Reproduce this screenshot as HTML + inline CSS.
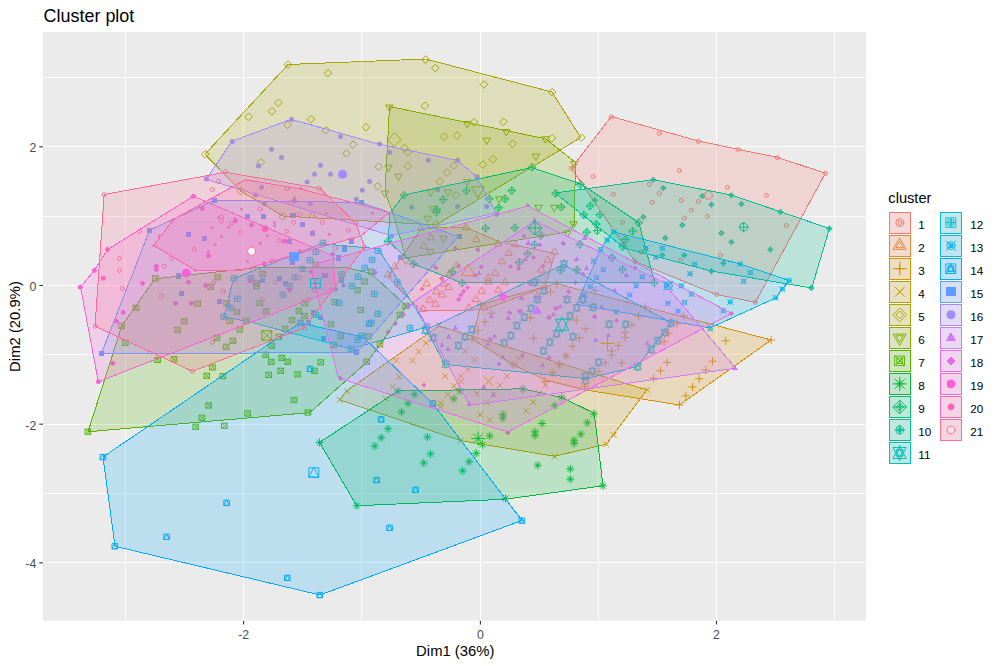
<!DOCTYPE html><html><head><meta charset="utf-8"><title>Cluster plot</title><style>html,body{margin:0;padding:0;background:#fff}svg{display:block}circle{shape-rendering:geometricPrecision}text{font-family:"Liberation Sans",Arial,sans-serif}</style></head><body>
<svg width="999" height="666" viewBox="0 0 999 666">
<rect width="999" height="666" fill="#fff"/>
<rect x="43" y="32" width="823" height="588.7" fill="#EBEBEB"/>
<clipPath id="pc"><rect x="43" y="32" width="823" height="588.7"/></clipPath>
<g shape-rendering="crispEdges"><path d="M125.5 32V620.7" stroke="#fff" stroke-width="1" stroke-opacity="0.85"/><path d="M361.5 32V620.7" stroke="#fff" stroke-width="1" stroke-opacity="0.85"/><path d="M598.5 32V620.7" stroke="#fff" stroke-width="1" stroke-opacity="0.85"/><path d="M834.5 32V620.7" stroke="#fff" stroke-width="1" stroke-opacity="0.85"/><path d="M43 77.5H866" stroke="#fff" stroke-width="1" stroke-opacity="0.85"/><path d="M43 216.5H866" stroke="#fff" stroke-width="1" stroke-opacity="0.85"/><path d="M43 354.5H866" stroke="#fff" stroke-width="1" stroke-opacity="0.85"/><path d="M43 493.5H866" stroke="#fff" stroke-width="1" stroke-opacity="0.85"/><path d="M243.6 32V620.7" stroke="#fff" stroke-width="1.3"/><path d="M480.4 32V620.7" stroke="#fff" stroke-width="1.3"/><path d="M716.5 32V620.7" stroke="#fff" stroke-width="1.3"/><path d="M43 146.83H866" stroke="#fff" stroke-width="1.3"/><path d="M43 285.5H866" stroke="#fff" stroke-width="1.3"/><path d="M43 424.17H866" stroke="#fff" stroke-width="1.3"/><path d="M43 562.83H866" stroke="#fff" stroke-width="1.3"/></g>
<g clip-path="url(#pc)" shape-rendering="crispEdges">
<g stroke="#F8766D" stroke-width="0.95" fill="none" stroke-linecap="round"><circle cx="571.2" cy="168.5" r="2"/><circle cx="593.2" cy="176.5" r="2"/><circle cx="611.3" cy="116.8" r="2"/><circle cx="659.3" cy="133.3" r="2"/><circle cx="698.4" cy="141.3" r="2"/><circle cx="738.1" cy="149.5" r="2"/><circle cx="777.4" cy="157.6" r="2"/><circle cx="825.5" cy="173.3" r="2"/><circle cx="679.3" cy="170.6" r="2"/><circle cx="727.4" cy="187.3" r="2"/><circle cx="766.4" cy="195.3" r="2"/><circle cx="649.3" cy="184.3" r="2"/><circle cx="659.3" cy="193.3" r="2"/><circle cx="613.3" cy="194.3" r="2"/><circle cx="652.3" cy="202.4" r="2"/><circle cx="681.3" cy="200.4" r="2"/><circle cx="698.4" cy="201.4" r="2"/><circle cx="691.3" cy="210.1" r="2"/><circle cx="707.4" cy="216.4" r="2"/><circle cx="684.3" cy="218.1" r="2"/><circle cx="622.5" cy="222.4" r="2"/><circle cx="786.4" cy="225.4" r="2"/><circle cx="720.4" cy="255.4" r="2"/><circle cx="680.3" cy="260.2" r="2"/><circle cx="641.3" cy="252.2" r="2"/><circle cx="635" cy="261.4" r="2"/><circle cx="716.6" cy="294.4" r="2"/><circle cx="755.3" cy="302.3" r="2"/></g>
<g stroke="#EB8335" stroke-width="0.95" fill="none" stroke-linecap="round"><path d="M312.6 211.55L316.11 217.63L309.09 217.63Z"/><path d="M421.1 224.25L424.61 230.33L417.59 230.33Z"/><path d="M430.8 233.75L434.31 239.83L427.29 239.83Z"/><path d="M423.8 242.05L427.31 248.13L420.29 248.13Z"/><path d="M466.1 223.65L469.61 229.73L462.59 229.73Z"/><path d="M476.6 235.75L480.11 241.83L473.09 241.83Z"/><path d="M394.8 262.75L398.31 268.83L391.29 268.83Z"/><path d="M388 270.85L391.51 276.93L384.49 276.93Z"/><path d="M456.8 261.55L460.31 267.63L453.29 267.63Z"/><path d="M449.6 269.75L453.11 275.83L446.09 275.83Z"/><path d="M515.3 240.55L518.81 246.63L511.79 246.63Z"/><path d="M508.9 249.25L512.41 255.33L505.39 255.33Z"/><path d="M502.1 257.75L505.61 263.83L498.59 263.83Z"/><path d="M495.4 269.35L498.91 275.43L491.89 275.43Z"/><path d="M488.6 274.25L492.11 280.33L485.09 280.33Z"/><path d="M498.4 239.75L501.91 245.83L494.89 245.83Z"/><path d="M554.8 248.05L558.31 254.13L551.29 254.13Z"/><path d="M547.8 256.25L551.31 262.33L544.29 262.33Z"/><path d="M541.5 266.05L545.01 272.13L537.99 272.13Z"/><path d="M426.8 279.75L430.31 285.83L423.29 285.83Z"/><path d="M443.6 279.75L447.11 285.83L440.09 285.83Z"/><path d="M448.8 283.45L452.31 289.53L445.29 289.53Z"/><path d="M436.5 287.65L440.01 293.73L432.99 293.73Z"/><path d="M442.5 290.95L446.01 297.03L438.99 297.03Z"/><path d="M429.8 296.25L433.31 302.33L426.29 302.33Z"/><path d="M435.8 300.25L439.31 306.33L432.29 306.33Z"/><path d="M423.3 305.25L426.81 311.33L419.79 311.33Z"/><path d="M475.9 295.45L479.41 301.53L472.39 301.53Z"/><path d="M481.9 287.25L485.41 293.33L478.39 293.33Z"/><path d="M498.4 286.15L501.91 292.23L494.89 292.23Z"/><path d="M505.1 278.65L508.61 284.73L501.59 284.73Z"/><path d="M469.1 304.15L472.61 310.23L465.59 310.23Z"/><path d="M484.9 303.75L488.41 309.83L481.39 309.83Z"/><path d="M488.6 278.25L492.11 284.33L485.09 284.33Z"/><path d="M544 282.75L547.51 288.83L540.49 288.83Z"/><path d="M537.7 291.75L541.21 297.83L534.19 297.83Z"/></g>
<g stroke="#DA8F00" stroke-width="0.95" fill="none" stroke-linecap="round"><path d="M477.41 304h7.37M481.1 300.31v7.37"/><path d="M487.61 313.3h7.37M491.3 309.61v7.37"/><path d="M481.21 322h7.37M484.9 318.31v7.37"/><path d="M474.41 330.6h7.37M478.1 326.91v7.37"/><path d="M468.41 339h7.37M472.1 335.31v7.37"/><path d="M553.11 284.2h7.37M556.8 280.51v7.37"/><path d="M546.81 292h7.37M550.5 288.31v7.37"/><path d="M591.41 290.8h7.37M595.1 287.11v7.37"/><path d="M526.81 317.8h7.37M530.5 314.11v7.37"/><path d="M572.61 320.2h7.37M576.3 316.51v7.37"/><path d="M582.11 328.8h7.37M585.8 325.11v7.37"/><path d="M575.61 337.8h7.37M579.3 334.11v7.37"/><path d="M529.81 338.3h7.37M533.5 334.61v7.37"/><path d="M568.91 346.1h7.37M572.6 342.41v7.37"/><path d="M628.21 325h7.37M631.9 321.31v7.37"/><path d="M621.41 332.6h7.37M625.1 328.91v7.37"/><path d="M621.41 337.8h7.37M625.1 334.11v7.37"/><path d="M614.61 345.6h7.37M618.3 341.91v7.37"/><path d="M607.91 350.9h7.37M611.6 347.21v7.37"/><path d="M607.91 355.1h7.37M611.6 351.41v7.37"/><path d="M601.61 362.9h7.37M605.3 359.21v7.37"/><path d="M618.11 362.9h7.37M621.8 359.21v7.37"/><path d="M634.91 316h7.37M638.6 312.31v7.37"/><path d="M641.71 307h7.37M645.4 303.31v7.37"/><path d="M660.41 341.6h7.37M664.1 337.91v7.37"/><path d="M663.41 362.3h7.37M667.1 358.61v7.37"/><path d="M656.71 370.8h7.37M660.4 367.11v7.37"/><path d="M595.11 371.6h7.37M598.8 367.91v7.37"/><path d="M649.91 378.3h7.37M653.6 374.61v7.37"/><path d="M664.91 333.3h7.37M668.6 329.61v7.37"/><path d="M541.11 381.5h7.37M544.8 377.81v7.37"/><path d="M580.91 386.8h7.37M584.6 383.11v7.37"/><path d="M767.51 340h7.37M771.2 336.31v7.37"/><path d="M722.11 340.8h7.37M725.8 337.11v7.37"/><path d="M708.81 361.2h7.37M712.5 357.51v7.37"/><path d="M702.11 370h7.37M705.8 366.31v7.37"/><path d="M695.51 378.8h7.37M699.2 375.11v7.37"/><path d="M688.81 387h7.37M692.5 383.31v7.37"/><path d="M682.11 395.8h7.37M685.8 392.11v7.37"/><path d="M675.81 405h7.37M679.5 401.31v7.37"/><path d="M680.11 315.8h7.37M683.8 312.11v7.37"/><path d="M673.31 323.8h7.37M677 320.11v7.37"/><path d="M562.21 355.7h7.37M565.9 352.01v7.37"/><path d="M555.41 364h7.37M559.1 360.31v7.37"/><path d="M548.61 372.6h7.37M552.3 368.91v7.37"/><path d="M509.61 365h7.37M513.3 361.31v7.37"/></g>
<g stroke="#C49A00" stroke-width="0.95" fill="none" stroke-linecap="round"><path d="M436.19 322.39l5.21 5.21M436.19 327.61l5.21 -5.21"/><path d="M423.29 340.49l5.21 5.21M423.29 345.71l5.21 -5.21"/><path d="M416.19 349.19l5.21 5.21M416.19 354.41l5.21 -5.21"/><path d="M393.69 357.99l5.21 5.21M393.69 363.21l5.21 -5.21"/><path d="M409.89 357.99l5.21 5.21M409.89 363.21l5.21 -5.21"/><path d="M462.39 348.69l5.21 5.21M462.39 353.91l5.21 -5.21"/><path d="M472.09 357.29l5.21 5.21M472.09 362.51l5.21 -5.21"/><path d="M465.69 366.99l5.21 5.21M465.69 372.21l5.21 -5.21"/><path d="M442.49 373.49l5.21 5.21M442.49 378.71l5.21 -5.21"/><path d="M458.19 373.49l5.21 5.21M458.19 378.71l5.21 -5.21"/><path d="M396.69 374.19l5.21 5.21M396.69 379.41l5.21 -5.21"/><path d="M504.29 373.49l5.21 5.21M504.29 378.71l5.21 -5.21"/><path d="M511.49 362.19l5.21 5.21M511.49 367.41l5.21 -5.21"/><path d="M515.99 355.49l5.21 5.21M515.99 360.71l5.21 -5.21"/><path d="M563.19 353.19l5.21 5.21M563.19 358.41l5.21 -5.21"/><path d="M556.69 362.19l5.21 5.21M556.69 367.41l5.21 -5.21"/><path d="M550.09 371.19l5.21 5.21M550.09 376.41l5.21 -5.21"/><path d="M389.89 384.19l5.21 5.21M389.89 389.41l5.21 -5.21"/><path d="M383.19 396.19l5.21 5.21M383.19 401.41l5.21 -5.21"/><path d="M451.49 383.39l5.21 5.21M451.49 388.61l5.21 -5.21"/><path d="M445.19 392.09l5.21 5.21M445.19 397.31l5.21 -5.21"/><path d="M437.99 400.69l5.21 5.21M437.99 405.91l5.21 -5.21"/><path d="M437.99 404.39l5.21 5.21M437.99 409.61l5.21 -5.21"/><path d="M458.19 378.89l5.21 5.21M458.19 384.11l5.21 -5.21"/><path d="M474.29 391.19l5.21 5.21M474.29 396.41l5.21 -5.21"/><path d="M484.19 399.89l5.21 5.21M484.19 405.11l5.21 -5.21"/><path d="M477.49 412.19l5.21 5.21M477.49 417.41l5.21 -5.21"/><path d="M487.19 417.19l5.21 5.21M487.19 422.41l5.21 -5.21"/><path d="M497.29 382.69l5.21 5.21M497.29 387.91l5.21 -5.21"/><path d="M457.89 438.19l5.21 5.21M457.89 443.41l5.21 -5.21"/><path d="M490.79 391.69l5.21 5.21M490.79 396.91l5.21 -5.21"/><path d="M542.89 382.69l5.21 5.21M542.89 387.91l5.21 -5.21"/><path d="M536.19 390.59l5.21 5.21M536.19 395.81l5.21 -5.21"/><path d="M530.49 399.49l5.21 5.21M530.49 404.71l5.21 -5.21"/><path d="M523.39 408.19l5.21 5.21M523.39 413.41l5.21 -5.21"/><path d="M644.69 387.19l5.21 5.21M644.69 392.41l5.21 -5.21"/><path d="M611.19 432.69l5.21 5.21M611.19 437.91l5.21 -5.21"/><path d="M603.69 441.69l5.21 5.21M603.69 446.91l5.21 -5.21"/><path d="M552.19 453.99l5.21 5.21M552.19 459.21l5.21 -5.21"/><path d="M337.19 397.19l5.21 5.21M337.19 402.41l5.21 -5.21"/><path d="M344.69 388.59l5.21 5.21M344.69 393.81l5.21 -5.21"/></g>
<g stroke="#A9A400" stroke-width="0.95" fill="none" stroke-linecap="round"><path d="M284.41 64.4L288.1 60.71L291.79 64.4L288.1 68.09Z"/><path d="M324.41 73L328.1 69.31L331.79 73L328.1 76.69Z"/><path d="M274.81 102.7L278.5 99.01L282.19 102.7L278.5 106.39Z"/><path d="M268.41 111.1L272.1 107.41L275.79 111.1L272.1 114.79Z"/><path d="M245.01 116.7L248.7 113.01L252.39 116.7L248.7 120.39Z"/><path d="M307.41 119.1L311.1 115.41L314.79 119.1L311.1 122.79Z"/><path d="M284.01 124.7L287.7 121.01L291.39 124.7L287.7 128.39Z"/><path d="M322.41 130.1L326.1 126.41L329.79 130.1L326.1 133.79Z"/><path d="M362.51 127.1L366.2 123.41L369.89 127.1L366.2 130.79Z"/><path d="M349.51 144.5L353.2 140.81L356.89 144.5L353.2 148.19Z"/><path d="M342.91 153.3L346.6 149.61L350.29 153.3L346.6 156.99Z"/><path d="M257.41 162.1L261.1 158.41L264.79 162.1L261.1 165.79Z"/><path d="M201.71 154.1L205.4 150.41L209.09 154.1L205.4 157.79Z"/><path d="M375.11 166.5L378.8 162.81L382.49 166.5L378.8 170.19Z"/><path d="M421.91 59.4L425.6 55.71L429.29 59.4L425.6 63.09Z"/><path d="M431.71 68L435.4 64.31L439.09 68L435.4 71.69Z"/><path d="M480.41 84.4L484.1 80.71L487.79 84.4L484.1 88.09Z"/><path d="M548.51 92L552.2 88.31L555.89 92L552.2 95.69Z"/><path d="M421.31 105.7L425 102.01L428.69 105.7L425 109.39Z"/><path d="M470.41 122.1L474.1 118.41L477.79 122.1L474.1 125.79Z"/><path d="M499.81 121.7L503.5 118.01L507.19 121.7L503.5 125.39Z"/><path d="M548.51 138.1L552.2 134.41L555.89 138.1L552.2 141.79Z"/><path d="M577.91 137.5L581.6 133.81L585.29 137.5L581.6 141.19Z"/><path d="M440.71 136.5L444.4 132.81L448.09 136.5L444.4 140.19Z"/><path d="M453.41 135.5L457.1 131.81L460.79 135.5L457.1 139.19Z"/><path d="M509.01 143.7L512.7 140.01L516.39 143.7L512.7 147.39Z"/><path d="M489.41 159.1L493.1 155.41L496.79 159.1L493.1 162.79Z"/><path d="M479.41 164.5L483.1 160.81L486.79 164.5L483.1 168.19Z"/><path d="M404.31 152.1L408 148.41L411.69 152.1L408 155.79Z"/><path d="M400.91 148.1L404.6 144.41L408.29 148.1L404.6 151.79Z"/><path d="M404.31 166.1L408 162.41L411.69 166.1L408 169.79Z"/><path d="M450.41 165.5L454.1 161.81L457.79 165.5L454.1 169.19Z"/><path d="M443.41 172.5L447.1 168.81L450.79 172.5L447.1 176.19Z"/><path d="M436.31 181.5L440 177.81L443.69 181.5L440 185.19Z"/><path d="M237.31 191L241 187.31L244.69 191L241 194.69Z"/><path d="M279.41 216.5L283.1 212.81L286.79 216.5L283.1 220.19Z"/><path d="M374.11 186L377.8 182.31L381.49 186L377.8 189.69Z"/><path d="M452.31 195L456 191.31L459.69 195L456 198.69Z"/><path d="M432.41 224.3L436.1 220.61L439.79 224.3L436.1 227.99Z"/></g>
<g stroke="#86AC00" stroke-width="0.95" fill="none" stroke-linecap="round"><path d="M389.6 111.15L393.11 105.07L386.09 105.07Z"/><path d="M388.8 171.15L392.31 165.07L385.29 165.07Z"/><path d="M467.5 127.55L471.01 121.47L463.99 121.47Z"/><path d="M506.5 135.55L510.01 129.47L502.99 129.47Z"/><path d="M545.6 142.75L549.11 136.67L542.09 136.67Z"/><path d="M487.1 144.15L490.61 138.07L483.59 138.07Z"/><path d="M536.1 160.15L539.61 154.07L532.59 154.07Z"/><path d="M574.6 167.55L578.11 161.47L571.09 161.47Z"/><path d="M398.6 180.15L402.11 174.07L395.09 174.07Z"/><path d="M467.1 185.55L470.61 179.47L463.59 179.47Z"/><path d="M385 197.25L388.51 191.17L381.49 191.17Z"/><path d="M431.1 196.05L434.61 189.97L427.59 189.97Z"/><path d="M448.1 196.05L451.61 189.97L444.59 189.97Z"/><path d="M433.1 212.55L436.61 206.47L429.59 206.47Z"/><path d="M427.8 222.35L431.31 216.27L424.29 216.27Z"/><path d="M443.9 242.35L447.41 236.27L440.39 236.27Z"/><path d="M430.5 255.35L434.01 249.27L426.99 249.27Z"/><path d="M406 264.35L409.51 258.27L402.49 258.27Z"/><path d="M499.4 202.85L502.91 196.77L495.89 196.77Z"/><path d="M538.8 211.35L542.31 205.27L535.29 205.27Z"/><path d="M554.5 211.35L558.01 205.27L550.99 205.27Z"/><path d="M573.8 227.85L577.31 221.77L570.29 221.77Z"/><path d="M567.7 236.95L571.21 230.87L564.19 230.87Z"/></g>
<g stroke="#53B400" stroke-width="0.95" fill="none" stroke-linecap="round"><path d="M152.99 275.69l5.21 5.21M152.99 280.91l5.21 -5.21M152.99 275.69h5.21v5.21h-5.21Z"/><path d="M215.29 274.69l5.21 5.21M215.29 279.91l5.21 -5.21M215.29 274.69h5.21v5.21h-5.21Z"/><path d="M133.49 305.19l5.21 5.21M133.49 310.41l5.21 -5.21M133.49 305.19h5.21v5.21h-5.21Z"/><path d="M119.19 323.19l5.21 5.21M119.19 328.41l5.21 -5.21M119.19 323.19h5.21v5.21h-5.21Z"/><path d="M122.99 340.19l5.21 5.21M122.99 345.41l5.21 -5.21M122.99 340.19h5.21v5.21h-5.21Z"/><path d="M208.19 284.19l5.21 5.21M208.19 289.41l5.21 -5.21M208.19 284.19h5.21v5.21h-5.21Z"/><path d="M195.29 301.09l5.21 5.21M195.29 306.31l5.21 -5.21M195.29 301.09h5.21v5.21h-5.21Z"/><path d="M181.79 318.69l5.21 5.21M181.79 323.91l5.21 -5.21M181.79 318.69h5.21v5.21h-5.21Z"/><path d="M175.19 327.19l5.21 5.21M175.19 332.41l5.21 -5.21M175.19 327.19h5.21v5.21h-5.21Z"/><path d="M155.19 357.29l5.21 5.21M155.19 362.51l5.21 -5.21M155.19 357.29h5.21v5.21h-5.21Z"/><path d="M171.49 356.49l5.21 5.21M171.49 361.71l5.21 -5.21M171.49 356.49h5.21v5.21h-5.21Z"/><path d="M214.49 335.19l5.21 5.21M214.49 340.41l5.21 -5.21M214.49 335.19h5.21v5.21h-5.21Z"/><path d="M209.99 364.79l5.21 5.21M209.99 370.01l5.21 -5.21M209.99 364.79h5.21v5.21h-5.21Z"/><path d="M204.29 373.19l5.21 5.21M204.29 378.41l5.21 -5.21M204.29 373.19h5.21v5.21h-5.21Z"/><path d="M85.39 429.19l5.21 5.21M85.39 434.41l5.21 -5.21M85.39 429.19h5.21v5.21h-5.21Z"/><path d="M260.19 271.19l5.21 5.21M260.19 276.41l5.21 -5.21M260.19 271.19h5.21v5.21h-5.21Z"/><path d="M313.49 262.19l5.21 5.21M313.49 267.41l5.21 -5.21M313.49 262.19h5.21v5.21h-5.21Z"/><path d="M254.19 280.39l5.21 5.21M254.19 285.61l5.21 -5.21M254.19 280.39h5.21v5.21h-5.21Z"/><path d="M254.19 283.69l5.21 5.21M254.19 288.91l5.21 -5.21M254.19 283.69h5.21v5.21h-5.21Z"/><path d="M224.19 300.69l5.21 5.21M224.19 305.91l5.21 -5.21M224.19 300.69h5.21v5.21h-5.21Z"/><path d="M234.39 309.19l5.21 5.21M234.39 314.41l5.21 -5.21M234.39 309.19h5.21v5.21h-5.21Z"/><path d="M227.19 318.19l5.21 5.21M227.19 323.41l5.21 -5.21M227.19 318.19h5.21v5.21h-5.21Z"/><path d="M243.69 318.19l5.21 5.21M243.69 323.41l5.21 -5.21M243.69 318.19h5.21v5.21h-5.21Z"/><path d="M237.39 326.89l5.21 5.21M237.39 332.11l5.21 -5.21M237.39 326.89h5.21v5.21h-5.21Z"/><path d="M230.49 338.19l5.21 5.21M230.49 343.41l5.21 -5.21M230.49 338.19h5.21v5.21h-5.21Z"/><path d="M223.69 344.19l5.21 5.21M223.69 349.41l5.21 -5.21M223.69 344.19h5.21v5.21h-5.21Z"/><path d="M257.19 300.19l5.21 5.21M257.19 305.41l5.21 -5.21M257.19 300.19h5.21v5.21h-5.21Z"/><path d="M263.49 308.59l5.21 5.21M263.49 313.81l5.21 -5.21M263.49 308.59h5.21v5.21h-5.21Z"/><path d="M302.49 300.69l5.21 5.21M302.49 305.91l5.21 -5.21M302.49 300.69h5.21v5.21h-5.21Z"/><path d="M296.49 308.19l5.21 5.21M296.49 313.41l5.21 -5.21M296.49 308.19h5.21v5.21h-5.21Z"/><path d="M302.19 313.39l5.21 5.21M302.19 318.61l5.21 -5.21M302.19 313.39h5.21v5.21h-5.21Z"/><path d="M289.49 317.49l5.21 5.21M289.49 322.71l5.21 -5.21M289.49 317.49h5.21v5.21h-5.21Z"/><path d="M282.69 326.19l5.21 5.21M282.69 331.41l5.21 -5.21M282.69 326.19h5.21v5.21h-5.21Z"/><path d="M276.29 334.19l5.21 5.21M276.29 339.41l5.21 -5.21M276.29 334.19h5.21v5.21h-5.21Z"/><path d="M269.19 343.19l5.21 5.21M269.19 348.41l5.21 -5.21M269.19 343.19h5.21v5.21h-5.21Z"/><path d="M263.19 352.19l5.21 5.21M263.19 357.41l5.21 -5.21M263.19 352.19h5.21v5.21h-5.21Z"/><path d="M268.79 359.19l5.21 5.21M268.79 364.41l5.21 -5.21M268.79 359.19h5.21v5.21h-5.21Z"/><path d="M279.29 355.19l5.21 5.21M279.29 360.41l5.21 -5.21M279.29 355.19h5.21v5.21h-5.21Z"/><path d="M285.29 359.19l5.21 5.21M285.29 364.41l5.21 -5.21M285.29 359.19h5.21v5.21h-5.21Z"/><path d="M278.19 368.19l5.21 5.21M278.19 373.41l5.21 -5.21M278.19 368.19h5.21v5.21h-5.21Z"/><path d="M266.19 372.29l5.21 5.21M266.19 377.51l5.21 -5.21M266.19 372.29h5.21v5.21h-5.21Z"/><path d="M295.19 371.69l5.21 5.21M295.19 376.91l5.21 -5.21M295.19 371.69h5.21v5.21h-5.21Z"/><path d="M311.99 368.19l5.21 5.21M311.99 373.41l5.21 -5.21M311.99 368.19h5.21v5.21h-5.21Z"/><path d="M318.29 359.69l5.21 5.21M318.29 364.91l5.21 -5.21M318.29 359.69h5.21v5.21h-5.21Z"/><path d="M328.49 321.69l5.21 5.21M328.49 326.91l5.21 -5.21M328.49 321.69h5.21v5.21h-5.21Z"/><path d="M338.29 333.69l5.21 5.21M338.29 338.91l5.21 -5.21M338.29 333.69h5.21v5.21h-5.21Z"/><path d="M331.49 342.29l5.21 5.21M331.49 347.51l5.21 -5.21M331.49 342.29h5.21v5.21h-5.21Z"/><path d="M332.29 299.49l5.21 5.21M332.29 304.71l5.21 -5.21M332.29 299.49h5.21v5.21h-5.21Z"/><path d="M355.19 287.59l5.21 5.21M355.19 292.81l5.21 -5.21M355.19 287.59h5.21v5.21h-5.21Z"/><path d="M358.19 307.39l5.21 5.21M358.19 312.61l5.21 -5.21M358.19 307.39h5.21v5.21h-5.21Z"/><path d="M361.99 278.89l5.21 5.21M361.99 284.11l5.21 -5.21M361.99 278.89h5.21v5.21h-5.21Z"/><path d="M220.39 373.49l5.21 5.21M220.39 378.71l5.21 -5.21M220.39 373.49h5.21v5.21h-5.21Z"/><path d="M364.19 359.19l5.21 5.21M364.19 364.41l5.21 -5.21M364.19 359.19h5.21v5.21h-5.21Z"/><path d="M365.99 333.69l5.21 5.21M365.99 338.91l5.21 -5.21M365.99 333.69h5.21v5.21h-5.21Z"/><path d="M206.19 402.89l5.21 5.21M206.19 408.11l5.21 -5.21M206.19 402.89h5.21v5.21h-5.21Z"/><path d="M199.39 415.19l5.21 5.21M199.39 420.41l5.21 -5.21M199.39 415.19h5.21v5.21h-5.21Z"/><path d="M193.19 424.19l5.21 5.21M193.19 429.41l5.21 -5.21M193.19 424.19h5.21v5.21h-5.21Z"/><path d="M221.89 423.19l5.21 5.21M221.89 428.41l5.21 -5.21M221.89 423.19h5.21v5.21h-5.21Z"/><path d="M245.19 410.89l5.21 5.21M245.19 416.11l5.21 -5.21M245.19 410.89h5.21v5.21h-5.21Z"/><path d="M291.59 397.39l5.21 5.21M291.59 402.61l5.21 -5.21M291.59 397.39h5.21v5.21h-5.21Z"/><path d="M305.39 409.89l5.21 5.21M305.39 415.11l5.21 -5.21M305.39 409.89h5.21v5.21h-5.21Z"/><path d="M368.89 268.99l5.21 5.21M368.89 274.21l5.21 -5.21M368.89 268.99h5.21v5.21h-5.21Z"/><path d="M403.39 303.19l5.21 5.21M403.39 308.41l5.21 -5.21M403.39 303.19h5.21v5.21h-5.21Z"/><path d="M397.39 312.19l5.21 5.21M397.39 317.41l5.21 -5.21M397.39 312.19h5.21v5.21h-5.21Z"/><path d="M377.49 341.69l5.21 5.21M377.49 346.91l5.21 -5.21M377.49 341.69h5.21v5.21h-5.21Z"/></g>
<g stroke="#00BA38" stroke-width="0.95" fill="none" stroke-linecap="round"><path d="M394.41 390.8h7.37M398.1 387.11v7.37M395.49 388.19l5.21 5.21M395.49 393.41l5.21 -5.21"/><path d="M410.91 394.3h7.37M414.6 390.61v7.37M411.99 391.69l5.21 5.21M411.99 396.91l5.21 -5.21"/><path d="M404.31 403.3h7.37M408 399.61v7.37M405.39 400.69l5.21 5.21M405.39 405.91l5.21 -5.21"/><path d="M397.81 412h7.37M401.5 408.31v7.37M398.89 409.39l5.21 5.21M398.89 414.61l5.21 -5.21"/><path d="M384.31 428.8h7.37M388 425.11v7.37M385.39 426.19l5.21 5.21M385.39 431.41l5.21 -5.21"/><path d="M377.61 437.8h7.37M381.3 434.11v7.37M378.69 435.19l5.21 5.21M378.69 440.41l5.21 -5.21"/><path d="M371.11 446.1h7.37M374.8 442.41v7.37M372.19 443.49l5.21 5.21M372.19 448.71l5.21 -5.21"/><path d="M423.71 437.1h7.37M427.4 433.41v7.37M424.79 434.49l5.21 5.21M424.79 439.71l5.21 -5.21"/><path d="M426.81 453.9h7.37M430.5 450.21v7.37M427.89 451.29l5.21 5.21M427.89 456.51l5.21 -5.21"/><path d="M420.11 462.9h7.37M423.8 459.21v7.37M421.19 460.29l5.21 5.21M421.19 465.51l5.21 -5.21"/><path d="M450.11 398.8h7.37M453.8 395.11v7.37M451.19 396.19l5.21 5.21M451.19 401.41l5.21 -5.21"/><path d="M456.11 390.8h7.37M459.8 387.11v7.37M457.19 388.19l5.21 5.21M457.19 393.41l5.21 -5.21"/><path d="M499.21 414.2h7.37M502.9 410.51v7.37M500.29 411.59l5.21 5.21M500.29 416.81l5.21 -5.21"/><path d="M499.21 418.3h7.37M502.9 414.61v7.37M500.29 415.69l5.21 5.21M500.29 420.91l5.21 -5.21"/><path d="M486.01 435.9h7.37M489.7 432.21v7.37M487.09 433.29l5.21 5.21M487.09 438.51l5.21 -5.21"/><path d="M478.91 444.6h7.37M482.6 440.91v7.37M479.99 441.99l5.21 5.21M479.99 447.21l5.21 -5.21"/><path d="M472.51 453.3h7.37M476.2 449.61v7.37M473.59 450.69l5.21 5.21M473.59 455.91l5.21 -5.21"/><path d="M465.41 461.8h7.37M469.1 458.11v7.37M466.49 459.19l5.21 5.21M466.49 464.41l5.21 -5.21"/><path d="M458.91 470.8h7.37M462.6 467.11v7.37M459.99 468.19l5.21 5.21M459.99 473.41l5.21 -5.21"/><path d="M519.31 389h7.37M523 385.31v7.37M520.39 386.39l5.21 5.21M520.39 391.61l5.21 -5.21"/><path d="M558.01 397.3h7.37M561.7 393.61v7.37M559.09 394.69l5.21 5.21M559.09 399.91l5.21 -5.21"/><path d="M551.11 405.8h7.37M554.8 402.11v7.37M552.19 403.19l5.21 5.21M552.19 408.41l5.21 -5.21"/><path d="M590.31 413.8h7.37M594 410.11v7.37M591.39 411.19l5.21 5.21M591.39 416.41l5.21 -5.21"/><path d="M583.61 422.8h7.37M587.3 419.11v7.37M584.69 420.19l5.21 5.21M584.69 425.41l5.21 -5.21"/><path d="M538.41 423.5h7.37M542.1 419.81v7.37M539.49 420.89l5.21 5.21M539.49 426.11l5.21 -5.21"/><path d="M531.31 431.8h7.37M535 428.11v7.37M532.39 429.19l5.21 5.21M532.39 434.41l5.21 -5.21"/><path d="M531.31 435.6h7.37M535 431.91v7.37M532.39 432.99l5.21 5.21M532.39 438.21l5.21 -5.21"/><path d="M577.11 434.1h7.37M580.8 430.41v7.37M578.19 431.49l5.21 5.21M578.19 436.71l5.21 -5.21"/><path d="M570.41 440.1h7.37M574.1 436.41v7.37M571.49 437.49l5.21 5.21M571.49 442.71l5.21 -5.21"/><path d="M570.41 443.4h7.37M574.1 439.71v7.37M571.49 440.79l5.21 5.21M571.49 446.01l5.21 -5.21"/><path d="M534.01 465.3h7.37M537.7 461.61v7.37M535.09 462.69l5.21 5.21M535.09 467.91l5.21 -5.21"/><path d="M566.61 469h7.37M570.3 465.31v7.37M567.69 466.39l5.21 5.21M567.69 471.61l5.21 -5.21"/><path d="M566.61 479.1h7.37M570.3 475.41v7.37M567.69 476.49l5.21 5.21M567.69 481.71l5.21 -5.21"/><path d="M599.31 485.8h7.37M603 482.11v7.37M600.39 483.19l5.21 5.21M600.39 488.41l5.21 -5.21"/><path d="M501.81 498.5h7.37M505.5 494.81v7.37M502.89 495.89l5.21 5.21M502.89 501.11l5.21 -5.21"/><path d="M315.81 442.5h7.37M319.5 438.81v7.37M316.89 439.89l5.21 5.21M316.89 445.11l5.21 -5.21"/><path d="M353.11 505.8h7.37M356.8 502.11v7.37M354.19 503.19l5.21 5.21M354.19 508.41l5.21 -5.21"/></g>
<g stroke="#00BE6D" stroke-width="0.95" fill="none" stroke-linecap="round"><path d="M528.41 167.1h7.37M532.1 163.41v7.37M528.41 167.1L532.1 163.41L535.79 167.1L532.1 170.79Z"/><path d="M635.11 222.6h7.37M638.8 218.91v7.37M635.11 222.6L638.8 218.91L642.49 222.6L638.8 226.29Z"/><path d="M628.81 231.1h7.37M632.5 227.41v7.37M628.81 231.1L632.5 227.41L636.19 231.1L632.5 234.79Z"/><path d="M621.81 239.6h7.37M625.5 235.91v7.37M621.81 239.6L625.5 235.91L629.19 239.6L625.5 243.29Z"/><path d="M596.31 214.6h7.37M600 210.91v7.37M596.31 214.6L600 210.91L603.69 214.6L600 218.29Z"/><path d="M592.61 223.9h7.37M596.3 220.21v7.37M592.61 223.9L596.3 220.21L599.99 223.9L596.3 227.59Z"/><path d="M593.81 230.6h7.37M597.5 226.91v7.37M593.81 230.6L597.5 226.91L601.19 230.6L597.5 234.29Z"/><path d="M619.31 246.4h7.37M623 242.71v7.37M619.31 246.4L623 242.71L626.69 246.4L623 250.09Z"/><path d="M608.31 257.7h7.37M612 254.01v7.37M608.31 257.7L612 254.01L615.69 257.7L612 261.39Z"/><path d="M400.51 195h7.37M404.2 191.31v7.37M400.51 195L404.2 191.31L407.89 195L404.2 198.69Z"/><path d="M439.61 199.5h7.37M443.3 195.81v7.37M439.61 199.5L443.3 195.81L446.99 199.5L443.3 203.19Z"/><path d="M462.81 190.8h7.37M466.5 187.11v7.37M462.81 190.8L466.5 187.11L470.19 190.8L466.5 194.49Z"/><path d="M433.11 209.3h7.37M436.8 205.61v7.37M433.11 209.3L436.8 205.61L440.49 209.3L436.8 212.99Z"/><path d="M433.11 212.3h7.37M436.8 208.61v7.37M433.11 212.3L436.8 208.61L440.49 212.3L436.8 215.99Z"/><path d="M384.31 241.3h7.37M388 237.61v7.37M384.31 241.3L388 237.61L391.69 241.3L388 244.99Z"/><path d="M409.81 263.8h7.37M413.5 260.11v7.37M409.81 263.8L413.5 260.11L417.19 263.8L413.5 267.49Z"/><path d="M481.91 228.3h7.37M485.6 224.61v7.37M481.91 228.3L485.6 224.61L489.29 228.3L485.6 231.99Z"/><path d="M511.21 227.7h7.37M514.9 224.01v7.37M511.21 227.7L514.9 224.01L518.59 227.7L514.9 231.39Z"/><path d="M508.21 190.5h7.37M511.9 186.81v7.37M508.21 190.5L511.9 186.81L515.59 190.5L511.9 194.19Z"/><path d="M501.41 198.8h7.37M505.1 195.11v7.37M501.41 198.8L505.1 195.11L508.79 198.8L505.1 202.49Z"/><path d="M485.71 198.8h7.37M489.4 195.11v7.37M485.71 198.8L489.4 195.11L493.09 198.8L489.4 202.49Z"/><path d="M495.11 207.8h7.37M498.8 204.11v7.37M495.11 207.8L498.8 204.11L502.49 207.8L498.8 211.49Z"/><path d="M448.61 271.9h7.37M452.3 268.21v7.37M448.61 271.9L452.3 268.21L455.99 271.9L452.3 275.59Z"/><path d="M515.71 262.3h7.37M519.4 258.61v7.37M515.71 262.3L519.4 258.61L523.09 262.3L519.4 265.99Z"/><path d="M551.91 193.2h7.37M555.6 189.51v7.37M551.91 193.2L555.6 189.51L559.29 193.2L555.6 196.89Z"/><path d="M576.81 184.2h7.37M580.5 180.51v7.37M576.81 184.2L580.5 180.51L584.19 184.2L580.5 187.89Z"/><path d="M557.61 207h7.37M561.3 203.31v7.37M557.61 207L561.3 203.31L564.99 207L561.3 210.69Z"/><path d="M586.61 205.8h7.37M590.3 202.11v7.37M586.61 205.8L590.3 202.11L593.99 205.8L590.3 209.49Z"/><path d="M580.11 214.8h7.37M583.8 211.11v7.37M580.11 214.8L583.8 211.11L587.49 214.8L583.8 218.49Z"/><path d="M583.11 232.1h7.37M586.8 228.41v7.37M583.11 232.1L586.8 228.41L590.49 232.1L586.8 235.79Z"/><path d="M618.91 269.3h7.37M622.6 265.61v7.37M618.91 269.3L622.6 265.61L626.29 269.3L622.6 272.99Z"/><path d="M576.41 244.3h7.37M580.1 240.61v7.37M576.41 244.3L580.1 240.61L583.79 244.3L580.1 247.99Z"/><path d="M537.31 235.3h7.37M541 231.61v7.37M537.31 235.3L541 231.61L544.69 235.3L541 238.99Z"/><path d="M530.91 244.6h7.37M534.6 240.91v7.37M530.91 244.6L534.6 240.91L538.29 244.6L534.6 248.29Z"/><path d="M524.11 253.6h7.37M527.8 249.91v7.37M524.11 253.6L527.8 249.91L531.49 253.6L527.8 257.29Z"/><path d="M573.41 269.8h7.37M577.1 266.11v7.37M573.41 269.8L577.1 266.11L580.79 269.8L577.1 273.49Z"/><path d="M557.11 270.1h7.37M560.8 266.41v7.37M557.11 270.1L560.8 266.41L564.49 270.1L560.8 273.79Z"/><path d="M458.61 283h7.37M462.3 279.31v7.37M458.61 283L462.3 279.31L465.99 283L462.3 286.69Z"/><path d="M650.71 282.7h7.37M654.4 279.01v7.37M650.71 282.7L654.4 279.01L658.09 282.7L654.4 286.39Z"/></g>
<g stroke="#00C094" stroke-width="0.95" fill="none" stroke-linecap="round"><circle cx="653.3" cy="179.8" r="2"/><path d="M650.69 179.8h5.21M653.3 177.19v5.21"/><circle cx="663.3" cy="188.1" r="2"/><path d="M660.69 188.1h5.21M663.3 185.49v5.21"/><circle cx="702.4" cy="196.1" r="2"/><path d="M699.79 196.1h5.21M702.4 193.49v5.21"/><circle cx="731.4" cy="195.3" r="2"/><path d="M728.79 195.3h5.21M731.4 192.69v5.21"/><circle cx="741.4" cy="204.1" r="2"/><path d="M738.79 204.1h5.21M741.4 201.49v5.21"/><circle cx="711.4" cy="204.6" r="2"/><path d="M708.79 204.6h5.21M711.4 201.99v5.21"/><circle cx="780.4" cy="211.9" r="2"/><path d="M777.79 211.9h5.21M780.4 209.29v5.21"/><circle cx="829.5" cy="228.6" r="2"/><path d="M826.89 228.6h5.21M829.5 225.99v5.21"/><circle cx="643.3" cy="217.1" r="2"/><path d="M640.69 217.1h5.21M643.3 214.49v5.21"/><circle cx="682.3" cy="225.1" r="2"/><path d="M679.69 225.1h5.21M682.3 222.49v5.21"/><circle cx="721.4" cy="233.1" r="2"/><path d="M718.79 233.1h5.21M721.4 230.49v5.21"/><circle cx="731.4" cy="242.1" r="2"/><path d="M728.79 242.1h5.21M731.4 239.49v5.21"/><circle cx="665.3" cy="238.1" r="2"/><path d="M662.69 238.1h5.21M665.3 235.49v5.21"/><circle cx="770.4" cy="249.6" r="2"/><path d="M767.79 249.6h5.21M770.4 246.99v5.21"/><circle cx="684.3" cy="255.2" r="2"/><path d="M681.69 255.2h5.21M684.3 252.59v5.21"/><circle cx="662.3" cy="255.2" r="2"/><path d="M659.69 255.2h5.21M662.3 252.59v5.21"/><circle cx="723.4" cy="263.2" r="2"/><path d="M720.79 263.2h5.21M723.4 260.59v5.21"/><circle cx="711.5" cy="271.2" r="2"/><path d="M708.89 271.2h5.21M711.5 268.59v5.21"/><circle cx="811.3" cy="288" r="2"/><path d="M808.69 288h5.21M811.3 285.39v5.21"/><circle cx="594.8" cy="200.3" r="2"/><path d="M592.19 200.3h5.21M594.8 197.69v5.21"/></g>
<g stroke="#00C0B5" stroke-width="0.95" fill="none" stroke-linecap="round"><path d="M564.3 260.05L567.81 267.14L560.79 267.14ZM564.3 268.15L567.81 261.06L560.79 261.06Z"/><path d="M425.6 326.25L429.11 333.34L422.09 333.34ZM425.6 334.35L429.11 327.26L422.09 327.26Z"/><path d="M433.4 333.75L436.91 340.84L429.89 340.84ZM433.4 341.85L436.91 334.76L429.89 334.76Z"/><path d="M445.8 360.05L449.31 367.14L442.29 367.14ZM445.8 368.15L449.31 361.06L442.29 361.06Z"/><path d="M472.1 325.45L475.61 332.54L468.59 332.54ZM472.1 333.55L475.61 326.46L468.59 326.46Z"/><path d="M465.3 332.75L468.81 339.84L461.79 339.84ZM465.3 340.85L468.81 333.76L461.79 333.76Z"/><path d="M458.6 341.55L462.11 348.64L455.09 348.64ZM458.6 349.65L462.11 342.56L455.09 342.56Z"/><path d="M511.1 331.55L514.61 338.64L507.59 338.64ZM511.1 339.65L514.61 332.56L507.59 332.56Z"/><path d="M504.4 339.05L507.91 346.14L500.89 346.14ZM504.4 347.15L507.91 340.06L500.89 340.06Z"/><path d="M517.1 321.75L520.61 328.84L513.59 328.84ZM517.1 329.85L520.61 322.76L513.59 322.76Z"/><path d="M535 278.25L538.51 285.34L531.49 285.34ZM535 286.35L538.51 279.26L531.49 279.26Z"/><path d="M544 286.75L547.51 293.84L540.49 293.84ZM544 294.85L547.51 287.76L540.49 287.76Z"/><path d="M537.7 295.45L541.21 302.54L534.19 302.54ZM537.7 303.55L541.21 296.46L534.19 296.46Z"/><path d="M531.3 304.45L534.81 311.54L527.79 311.54ZM531.3 312.55L534.81 305.46L527.79 305.46Z"/><path d="M524.5 313.15L528.01 320.24L520.99 320.24ZM524.5 321.25L528.01 314.16L520.99 314.16Z"/><path d="M567.3 295.45L570.81 302.54L563.79 302.54ZM567.3 303.55L570.81 296.46L563.79 296.46Z"/><path d="M583.1 295.45L586.61 302.54L579.59 302.54ZM583.1 303.55L586.61 296.46L579.59 296.46Z"/><path d="M576.8 303.75L580.31 310.84L573.29 310.84ZM576.8 311.85L580.31 304.76L573.29 304.76Z"/><path d="M593.3 303.25L596.81 310.34L589.79 310.34ZM593.3 311.35L596.81 304.26L589.79 304.26Z"/><path d="M570.3 311.95L573.81 319.04L566.79 319.04ZM570.3 320.05L573.81 312.96L566.79 312.96Z"/><path d="M556.8 329.75L560.31 336.84L553.29 336.84ZM556.8 337.85L560.31 330.76L553.29 330.76Z"/><path d="M573.3 332.75L576.81 339.84L569.79 339.84ZM573.3 340.85L576.81 333.76L569.79 333.76Z"/><path d="M550 338.25L553.51 345.34L546.49 345.34ZM550 346.35L553.51 339.26L546.49 339.26Z"/><path d="M543.7 346.85L547.21 353.94L540.19 353.94ZM543.7 354.95L547.21 347.86L540.19 347.86Z"/><path d="M609.3 320.25L612.81 327.34L605.79 327.34ZM609.3 328.35L612.81 321.26L605.79 321.26Z"/><path d="M625.9 320.25L629.41 327.34L622.39 327.34ZM625.9 328.35L629.41 321.26L622.39 321.26Z"/><path d="M598.8 358.25L602.31 365.34L595.29 365.34ZM598.8 366.35L602.31 359.26L595.29 359.26Z"/><path d="M592.5 367.25L596.01 374.34L588.99 374.34ZM592.5 375.35L596.01 368.26L588.99 368.26Z"/><path d="M585.6 372.05L589.11 379.14L582.09 379.14ZM585.6 380.15L589.11 373.06L582.09 373.06Z"/><path d="M664.9 328.55L668.41 335.64L661.39 335.64ZM664.9 336.65L668.41 329.56L661.39 329.56Z"/><path d="M658.1 336.75L661.61 343.84L654.59 343.84ZM658.1 344.85L661.61 337.76L654.59 337.76Z"/><path d="M651.4 345.35L654.91 352.44L647.89 352.44ZM651.4 353.45L654.91 346.36L647.89 346.36Z"/><path d="M637.9 362.75L641.41 369.84L634.39 369.84ZM637.9 370.85L641.41 363.76L634.39 363.76Z"/><path d="M585.6 376.75L589.11 383.84L582.09 383.84ZM585.6 384.85L589.11 377.76L582.09 377.76Z"/><path d="M671.2 319.15L674.71 326.24L667.69 326.24ZM671.2 327.25L674.71 320.16L667.69 320.16Z"/></g>
<g stroke="#00BDD2" stroke-width="0.95" fill="none" stroke-linecap="round"><path d="M320.59 242.8h5.21M323.2 240.19v5.21M320.59 240.19h5.21v5.21h-5.21Z"/><path d="M313.49 251.8h5.21M316.1 249.19v5.21M313.49 249.19h5.21v5.21h-5.21Z"/><path d="M307.49 260.3h5.21M310.1 257.69v5.21M307.49 257.69h5.21v5.21h-5.21Z"/><path d="M300.39 268.9h5.21M303 266.29v5.21M300.39 266.29h5.21v5.21h-5.21Z"/><path d="M362.29 267.8h5.21M364.9 265.19v5.21M362.29 265.19h5.21v5.21h-5.21Z"/><path d="M339.29 274.3h5.21M341.9 271.69v5.21M339.29 271.69h5.21v5.21h-5.21Z"/><path d="M355.49 276.8h5.21M358.1 274.19v5.21M355.49 274.19h5.21v5.21h-5.21Z"/><path d="M231.39 278.3h5.21M234 275.69v5.21M231.39 275.69h5.21v5.21h-5.21Z"/><path d="M248.49 278.3h5.21M251.1 275.69v5.21M248.49 275.69h5.21v5.21h-5.21Z"/><path d="M292.49 277.3h5.21M295.1 274.69v5.21M292.49 274.69h5.21v5.21h-5.21Z"/><path d="M234.99 298.8h5.21M237.6 296.19v5.21M234.99 296.19h5.21v5.21h-5.21Z"/><path d="M228.19 307.8h5.21M230.8 305.19v5.21M228.19 305.19h5.21v5.21h-5.21Z"/><path d="M221.19 316.8h5.21M223.8 314.19v5.21M221.19 314.19h5.21v5.21h-5.21Z"/><path d="M280.49 294.7h5.21M283.1 292.09v5.21M280.49 292.09h5.21v5.21h-5.21Z"/><path d="M287.19 286h5.21M289.8 283.39v5.21M287.19 283.39h5.21v5.21h-5.21Z"/><path d="M349.49 286h5.21M352.1 283.39v5.21M349.49 283.39h5.21v5.21h-5.21Z"/><path d="M336.79 302.8h5.21M339.4 300.19v5.21M336.79 300.19h5.21v5.21h-5.21Z"/><path d="M313.49 314.8h5.21M316.1 312.19v5.21M313.49 312.19h5.21v5.21h-5.21Z"/><path d="M355.19 339.8h5.21M357.8 337.19v5.21M355.19 337.19h5.21v5.21h-5.21Z"/><path d="M348.29 348.8h5.21M350.9 346.19v5.21M348.29 346.19h5.21v5.21h-5.21Z"/><path d="M359.29 335.6h5.21M361.9 332.99v5.21M359.29 332.99h5.21v5.21h-5.21Z"/><path d="M375.69 250.9h5.21M378.3 248.29v5.21M375.69 248.29h5.21v5.21h-5.21Z"/><path d="M369.69 259.9h5.21M372.3 257.29v5.21M369.69 257.29h5.21v5.21h-5.21Z"/><path d="M394.89 282.3h5.21M397.5 279.69v5.21M394.89 279.69h5.21v5.21h-5.21Z"/><path d="M371.89 294h5.21M374.5 291.39v5.21M371.89 291.39h5.21v5.21h-5.21Z"/><path d="M375.39 313.8h5.21M378 311.19v5.21M375.39 311.19h5.21v5.21h-5.21Z"/><path d="M368.89 322.8h5.21M371.5 320.19v5.21M368.89 320.19h5.21v5.21h-5.21Z"/><path d="M407.59 328h5.21M410.2 325.39v5.21M407.59 325.39h5.21v5.21h-5.21Z"/><path d="M424.49 326.5h5.21M427.1 323.89v5.21M424.49 323.89h5.21v5.21h-5.21Z"/></g>
<g stroke="#00B6EB" stroke-width="0.95" fill="none" stroke-linecap="round"><circle cx="613.8" cy="231.9" r="2"/><path d="M611.19 229.29l5.21 5.21M611.19 234.51l5.21 -5.21"/><circle cx="607" cy="240.1" r="2"/><path d="M604.39 237.49l5.21 5.21M604.39 242.71l5.21 -5.21"/><circle cx="645.8" cy="248.4" r="2"/><path d="M643.19 245.79l5.21 5.21M643.19 251.01l5.21 -5.21"/><circle cx="662.3" cy="248.4" r="2"/><path d="M659.69 245.79l5.21 5.21M659.69 251.01l5.21 -5.21"/><circle cx="655.8" cy="257.2" r="2"/><path d="M653.19 254.59l5.21 5.21M653.19 259.81l5.21 -5.21"/><circle cx="694.6" cy="264.4" r="2"/><path d="M691.99 261.79l5.21 5.21M691.99 267.01l5.21 -5.21"/><circle cx="740.1" cy="263.9" r="2"/><path d="M737.49 261.29l5.21 5.21M737.49 266.51l5.21 -5.21"/><circle cx="600.5" cy="249.6" r="2"/><path d="M597.89 246.99l5.21 5.21M597.89 252.21l5.21 -5.21"/><circle cx="789.1" cy="280.5" r="2"/><path d="M786.49 277.89l5.21 5.21M786.49 283.11l5.21 -5.21"/><circle cx="782.3" cy="289.2" r="2"/><path d="M779.69 286.59l5.21 5.21M779.69 291.81l5.21 -5.21"/><circle cx="775.6" cy="297.8" r="2"/><path d="M772.99 295.19l5.21 5.21M772.99 300.41l5.21 -5.21"/><circle cx="750.4" cy="272.6" r="2"/><path d="M747.79 269.99l5.21 5.21M747.79 275.21l5.21 -5.21"/><circle cx="743.6" cy="281.3" r="2"/><path d="M740.99 278.69l5.21 5.21M740.99 283.91l5.21 -5.21"/><circle cx="730.2" cy="301.9" r="2"/><path d="M727.59 299.29l5.21 5.21M727.59 304.51l5.21 -5.21"/><circle cx="723.3" cy="310.6" r="2"/><path d="M720.69 307.99l5.21 5.21M720.69 313.21l5.21 -5.21"/><circle cx="710.3" cy="328.6" r="2"/><path d="M707.69 325.99l5.21 5.21M707.69 331.21l5.21 -5.21"/><circle cx="691.5" cy="294.1" r="2"/><path d="M688.89 291.49l5.21 5.21M688.89 296.71l5.21 -5.21"/><circle cx="690" cy="273.8" r="2"/><path d="M687.39 271.19l5.21 5.21M687.39 276.41l5.21 -5.21"/><circle cx="593.6" cy="261.1" r="2"/><path d="M590.99 258.49l5.21 5.21M590.99 263.71l5.21 -5.21"/><circle cx="603.3" cy="269.6" r="2"/><path d="M600.69 266.99l5.21 5.21M600.69 272.21l5.21 -5.21"/><circle cx="596.6" cy="277.6" r="2"/><path d="M593.99 274.99l5.21 5.21M593.99 280.21l5.21 -5.21"/><circle cx="642.4" cy="276.8" r="2"/><path d="M639.79 274.19l5.21 5.21M639.79 279.41l5.21 -5.21"/><circle cx="590.3" cy="286.8" r="2"/><path d="M587.69 284.19l5.21 5.21M587.69 289.41l5.21 -5.21"/><circle cx="583.8" cy="295" r="2"/><path d="M581.19 292.39l5.21 5.21M581.19 297.61l5.21 -5.21"/><circle cx="616.1" cy="312" r="2"/><path d="M613.49 309.39l5.21 5.21M613.49 314.61l5.21 -5.21"/><circle cx="629.6" cy="295" r="2"/><path d="M626.99 292.39l5.21 5.21M626.99 297.61l5.21 -5.21"/><circle cx="636.1" cy="285.7" r="2"/><path d="M633.49 283.09l5.21 5.21M633.49 288.31l5.21 -5.21"/><circle cx="667.9" cy="303.3" r="2"/><path d="M665.29 300.69l5.21 5.21M665.29 305.91l5.21 -5.21"/><circle cx="667.1" cy="285.3" r="2"/><path d="M664.49 282.69l5.21 5.21M664.49 287.91l5.21 -5.21"/><circle cx="681.2" cy="285.8" r="2"/><path d="M678.59 283.19l5.21 5.21M678.59 288.41l5.21 -5.21"/><circle cx="684.5" cy="302.5" r="2"/><path d="M681.89 299.89l5.21 5.21M681.89 305.11l5.21 -5.21"/><circle cx="678" cy="311.2" r="2"/><path d="M675.39 308.59l5.21 5.21M675.39 313.81l5.21 -5.21"/></g>
<g stroke="#00ABFD" stroke-width="0.95" fill="none" stroke-linecap="round"><path d="M100.39 454.39h5.21v5.21h-5.21ZM103 454.39L105.61 459.61L100.39 459.61Z"/><path d="M112.39 543.59h5.21v5.21h-5.21ZM115 543.59L117.61 548.81L112.39 548.81Z"/><path d="M164.19 534.19h5.21v5.21h-5.21ZM166.8 534.19L169.41 539.41L164.19 539.41Z"/><path d="M224.19 500.19h5.21v5.21h-5.21ZM226.8 500.19L229.41 505.41L224.19 505.41Z"/><path d="M284.89 575.19h5.21v5.21h-5.21ZM287.5 575.19L290.11 580.41L284.89 580.41Z"/><path d="M374.19 477.39h5.21v5.21h-5.21ZM376.8 477.39L379.41 482.61L374.19 482.61Z"/><path d="M413.19 487.19h5.21v5.21h-5.21ZM415.8 487.19L418.41 492.41L413.19 492.41Z"/><path d="M387.19 525.19h5.21v5.21h-5.21ZM389.8 525.19L392.41 530.41L387.19 530.41Z"/><path d="M317.39 592.39h5.21v5.21h-5.21ZM320 592.39L322.61 597.61L317.39 597.61Z"/><path d="M519.39 517.89h5.21v5.21h-5.21ZM522 517.89L524.61 523.11L519.39 523.11Z"/><path d="M297.99 320.19h5.21v5.21h-5.21ZM300.6 320.19L303.21 325.41L297.99 325.41Z"/><path d="M307.49 366.29h5.21v5.21h-5.21ZM310.1 366.29L312.71 371.51L307.49 371.51Z"/><path d="M366.79 320.89h5.21v5.21h-5.21ZM369.4 320.89L372.01 326.11L366.79 326.11Z"/><path d="M430.49 400.69h5.21v5.21h-5.21ZM433.1 400.69L435.71 405.91L430.49 405.91Z"/><path d="M378.69 416.69h5.21v5.21h-5.21ZM381.3 416.69L383.91 421.91L378.69 421.91Z"/></g>
<g stroke="#619CFF" stroke-width="0.95" fill="none" stroke-linecap="round"><path d="M146.99 227.99h5.21v5.21h-5.21Z" fill="#619CFF" stroke="none"/><path d="M211.79 197.69h5.21v5.21h-5.21Z" fill="#619CFF" stroke="none"/><path d="M185.99 232.19h5.21v5.21h-5.21Z" fill="#619CFF" stroke="none"/><path d="M201.79 235.69h5.21v5.21h-5.21Z" fill="#619CFF" stroke="none"/><path d="M175.79 273.49h5.21v5.21h-5.21Z" fill="#619CFF" stroke="none"/><path d="M178.79 290.89h5.21v5.21h-5.21Z" fill="#619CFF" stroke="none"/><path d="M98.59 350.99h5.21v5.21h-5.21Z" fill="#619CFF" stroke="none"/><path d="M216.79 299.19h5.21v5.21h-5.21Z" fill="#619CFF" stroke="none"/><path d="M244.89 213.69h5.21v5.21h-5.21Z" fill="#619CFF" stroke="none"/><path d="M260.89 213.69h5.21v5.21h-5.21Z" fill="#619CFF" stroke="none"/><path d="M290.49 212.69h5.21v5.21h-5.21Z" fill="#619CFF" stroke="none"/><path d="M299.99 221.69h5.21v5.21h-5.21Z" fill="#619CFF" stroke="none"/><path d="M309.99 230.69h5.21v5.21h-5.21Z" fill="#619CFF" stroke="none"/><path d="M286.79 238.99h5.21v5.21h-5.21Z" fill="#619CFF" stroke="none"/><path d="M349.09 238.49h5.21v5.21h-5.21Z" fill="#619CFF" stroke="none"/><path d="M341.99 246.49h5.21v5.21h-5.21Z" fill="#619CFF" stroke="none"/><path d="M335.99 255.49h5.21v5.21h-5.21Z" fill="#619CFF" stroke="none"/><path d="M289.89 259.69h5.21v5.21h-5.21Z" fill="#619CFF" stroke="none"/><path d="M358.79 200.19h5.21v5.21h-5.21Z" fill="#619CFF" stroke="none"/><path d="M322.49 272.69h5.21v5.21h-5.21Z" fill="#619CFF" stroke="none"/><path d="M277.19 275.69h5.21v5.21h-5.21Z" fill="#619CFF" stroke="none"/><path d="M259.89 278.19h5.21v5.21h-5.21Z" fill="#619CFF" stroke="none"/><path d="M282.69 281.19h5.21v5.21h-5.21Z" fill="#619CFF" stroke="none"/><path d="M305.99 319.89h5.21v5.21h-5.21Z" fill="#619CFF" stroke="none"/><path d="M317.99 315.19h5.21v5.21h-5.21Z" fill="#619CFF" stroke="none"/><path d="M320.69 335.69h5.21v5.21h-5.21Z" fill="#619CFF" stroke="none"/><path d="M353.59 349.49h5.21v5.21h-5.21Z" fill="#619CFF" stroke="none"/><path d="M311.19 310.39h5.21v5.21h-5.21Z" fill="#619CFF" stroke="none"/><path d="M338.99 277.39h5.21v5.21h-5.21Z" fill="#619CFF" stroke="none"/><path d="M456.99 233.99h5.21v5.21h-5.21Z" fill="#619CFF" stroke="none"/><path d="M397.89 254.69h5.21v5.21h-5.21Z" fill="#619CFF" stroke="none"/></g>
<g stroke="#A58AFF" stroke-width="0.95" fill="none" stroke-linecap="round"><circle cx="291.5" cy="119.5" r="2.5" fill="#A58AFF" stroke="none"/><circle cx="232.4" cy="141.5" r="2.5" fill="#A58AFF" stroke="none"/><circle cx="271.5" cy="149.3" r="2.5" fill="#A58AFF" stroke="none"/><circle cx="281.5" cy="157.5" r="2.5" fill="#A58AFF" stroke="none"/><circle cx="340.5" cy="136.5" r="2.5" fill="#A58AFF" stroke="none"/><circle cx="379.6" cy="144.1" r="2.5" fill="#A58AFF" stroke="none"/><circle cx="389.6" cy="152.5" r="2.5" fill="#A58AFF" stroke="none"/><circle cx="320.5" cy="165.3" r="2.5" fill="#A58AFF" stroke="none"/><circle cx="314.5" cy="174.3" r="2.5" fill="#A58AFF" stroke="none"/><circle cx="330.5" cy="174.3" r="2.5" fill="#A58AFF" stroke="none"/><circle cx="258.5" cy="166.1" r="2.5" fill="#A58AFF" stroke="none"/><circle cx="206.4" cy="179.1" r="2.5" fill="#A58AFF" stroke="none"/><circle cx="369.6" cy="181.5" r="2.5" fill="#A58AFF" stroke="none"/><circle cx="307.1" cy="182.1" r="2.5" fill="#A58AFF" stroke="none"/><circle cx="428.4" cy="160.3" r="2.5" fill="#A58AFF" stroke="none"/><circle cx="457.5" cy="160.3" r="2.5" fill="#A58AFF" stroke="none"/><circle cx="477.1" cy="176.7" r="2.5" fill="#A58AFF" stroke="none"/><circle cx="261.6" cy="187.2" r="2.5" fill="#A58AFF" stroke="none"/><circle cx="255.6" cy="195" r="2.5" fill="#A58AFF" stroke="none"/><circle cx="362.3" cy="190.2" r="2.5" fill="#A58AFF" stroke="none"/><circle cx="356.3" cy="199.2" r="2.5" fill="#A58AFF" stroke="none"/><circle cx="310.4" cy="203.6" r="2.5" fill="#A58AFF" stroke="none"/><circle cx="264.6" cy="204" r="2.5" fill="#A58AFF" stroke="none"/><circle cx="294.3" cy="200.6" r="2.5" fill="#A58AFF" stroke="none"/><circle cx="411.6" cy="207.3" r="2.5" fill="#A58AFF" stroke="none"/><circle cx="457.5" cy="206.6" r="2.5" fill="#A58AFF" stroke="none"/><circle cx="486.7" cy="206.6" r="2.5" fill="#A58AFF" stroke="none"/><circle cx="437.6" cy="189.8" r="2.5" fill="#A58AFF" stroke="none"/><circle cx="391.5" cy="236.3" r="2.5" fill="#A58AFF" stroke="none"/><circle cx="496.6" cy="214.2" r="2.5" fill="#A58AFF" stroke="none"/></g>
<g stroke="#D078FF" stroke-width="0.95" fill="none" stroke-linecap="round"><path d="M478.9 270.16L481.71 275.02L476.09 275.02Z" fill="#D078FF" stroke="none"/><path d="M475.1 272.06L477.91 276.92L472.29 276.92Z" fill="#D078FF" stroke="none"/><path d="M527.8 202.56L530.61 207.42L524.99 207.42Z" fill="#D078FF" stroke="none"/><path d="M534.6 217.26L537.41 222.12L531.79 222.12Z" fill="#D078FF" stroke="none"/><path d="M584.6 235.06L587.41 239.92L581.79 239.92Z" fill="#D078FF" stroke="none"/><path d="M528.3 239.86L531.11 244.72L525.49 244.72Z" fill="#D078FF" stroke="none"/><path d="M525.3 256.36L528.11 261.22L522.49 261.22Z" fill="#D078FF" stroke="none"/><path d="M576.8 256.06L579.61 260.92L573.99 260.92Z" fill="#D078FF" stroke="none"/><path d="M586.5 265.36L589.31 270.22L583.69 270.22Z" fill="#D078FF" stroke="none"/><path d="M626.2 272.06L629.01 276.92L623.39 276.92Z" fill="#D078FF" stroke="none"/><path d="M455.3 324.76L458.11 329.62L452.49 329.62Z" fill="#D078FF" stroke="none"/><path d="M448.8 333.86L451.61 338.72L445.99 338.72Z" fill="#D078FF" stroke="none"/><path d="M442.1 342.36L444.91 347.22L439.29 347.22Z" fill="#D078FF" stroke="none"/><path d="M448.1 346.16L450.91 351.02L445.29 351.02Z" fill="#D078FF" stroke="none"/><path d="M494.6 333.36L497.41 338.22L491.79 338.22Z" fill="#D078FF" stroke="none"/><path d="M487.9 341.36L490.71 346.22L485.09 346.22Z" fill="#D078FF" stroke="none"/><path d="M508.1 315.06L510.91 319.92L505.29 319.92Z" fill="#D078FF" stroke="none"/><path d="M491.3 312.76L494.11 317.62L488.49 317.62Z" fill="#D078FF" stroke="none"/><path d="M502.9 354.06L505.71 358.92L500.09 358.92Z" fill="#D078FF" stroke="none"/><path d="M521.5 294.76L524.31 299.62L518.69 299.62Z" fill="#D078FF" stroke="none"/><path d="M538 294.76L540.81 299.62L535.19 299.62Z" fill="#D078FF" stroke="none"/><path d="M560.2 303.46L563.01 308.32L557.39 308.32Z" fill="#D078FF" stroke="none"/><path d="M553.3 311.56L556.11 316.42L550.49 316.42Z" fill="#D078FF" stroke="none"/><path d="M601.5 304.26L604.31 309.12L598.69 309.12Z" fill="#D078FF" stroke="none"/><path d="M595.8 337.16L598.61 342.02L592.99 342.02Z" fill="#D078FF" stroke="none"/><path d="M608.3 332.36L611.11 337.22L605.49 337.22Z" fill="#D078FF" stroke="none"/><path d="M549 353.66L551.81 358.52L546.19 358.52Z" fill="#D078FF" stroke="none"/><path d="M542.5 362.36L545.31 367.22L539.69 367.22Z" fill="#D078FF" stroke="none"/><path d="M647.3 340.56L650.11 345.42L644.49 345.42Z" fill="#D078FF" stroke="none"/><path d="M520.8 308.26L523.61 313.12L517.99 313.12Z" fill="#D078FF" stroke="none"/><path d="M567 294.46L569.81 299.32L564.19 299.32Z" fill="#D078FF" stroke="none"/><path d="M483.8 384.26L486.61 389.12L480.99 389.12Z" fill="#D078FF" stroke="none"/><path d="M493.4 392.06L496.21 396.92L490.59 396.92Z" fill="#D078FF" stroke="none"/><path d="M469.4 401.06L472.21 405.92L466.59 405.92Z" fill="#D078FF" stroke="none"/><path d="M735 364.96L737.81 369.82L732.19 369.82Z" fill="#D078FF" stroke="none"/></g>
<g stroke="#EC69EF" stroke-width="0.95" fill="none" stroke-linecap="round"><path d="M728.69 313.6L731.3 310.99L733.91 313.6L731.3 316.21Z" fill="#EC69EF" stroke="none"/><path d="M308.19 271.6L310.8 268.99L313.41 271.6L310.8 274.21Z" fill="#EC69EF" stroke="none"/><path d="M340.79 285.7L343.4 283.09L346.01 285.7L343.4 288.31Z" fill="#EC69EF" stroke="none"/><path d="M337.49 378.3L340.1 375.69L342.71 378.3L340.1 380.91Z" fill="#EC69EF" stroke="none"/><path d="M452.69 248.3L455.3 245.69L457.91 248.3L455.3 250.91Z" fill="#EC69EF" stroke="none"/><path d="M475.09 249.8L477.7 247.19L480.31 249.8L477.7 252.41Z" fill="#EC69EF" stroke="none"/><path d="M432.99 267.8L435.6 265.19L438.21 267.8L435.6 270.41Z" fill="#EC69EF" stroke="none"/><path d="M455.99 265.6L458.6 262.99L461.21 265.6L458.6 268.21Z" fill="#EC69EF" stroke="none"/><path d="M478.49 266.6L481.1 263.99L483.71 266.6L481.1 269.21Z" fill="#EC69EF" stroke="none"/><path d="M507.79 266.3L510.4 263.69L513.01 266.3L510.4 268.91Z" fill="#EC69EF" stroke="none"/><path d="M439.19 278.3L441.8 275.69L444.41 278.3L441.8 280.91Z" fill="#EC69EF" stroke="none"/><path d="M515.99 268.6L518.6 265.99L521.21 268.6L518.6 271.21Z" fill="#EC69EF" stroke="none"/><path d="M521.19 235.9L523.8 233.29L526.41 235.9L523.8 238.51Z" fill="#EC69EF" stroke="none"/><path d="M560.49 243.4L563.1 240.79L565.71 243.4L563.1 246.01Z" fill="#EC69EF" stroke="none"/><path d="M537.39 245.3L540 242.69L542.61 245.3L540 247.91Z" fill="#EC69EF" stroke="none"/><path d="M530.89 257.3L533.5 254.69L536.11 257.3L533.5 259.91Z" fill="#EC69EF" stroke="none"/><path d="M540.39 265.9L543 263.29L545.61 265.9L543 268.51Z" fill="#EC69EF" stroke="none"/><path d="M632.29 267.8L634.9 265.19L637.51 267.8L634.9 270.41Z" fill="#EC69EF" stroke="none"/><path d="M580.49 273.8L583.1 271.19L585.71 273.8L583.1 276.41Z" fill="#EC69EF" stroke="none"/><path d="M419.19 289L421.8 286.39L424.41 289L421.8 291.61Z" fill="#EC69EF" stroke="none"/><path d="M464.99 287.5L467.6 284.89L470.21 287.5L467.6 290.11Z" fill="#EC69EF" stroke="none"/><path d="M461.19 291.3L463.8 288.69L466.41 291.3L463.8 293.91Z" fill="#EC69EF" stroke="none"/><path d="M458.19 295L460.8 292.39L463.41 295L460.8 297.61Z" fill="#EC69EF" stroke="none"/><path d="M455.99 299.2L458.6 296.59L461.21 299.2L458.6 301.81Z" fill="#EC69EF" stroke="none"/><path d="M406.69 305.8L409.3 303.19L411.91 305.8L409.3 308.41Z" fill="#EC69EF" stroke="none"/><path d="M392.89 323.5L395.5 320.89L398.11 323.5L395.5 326.11Z" fill="#EC69EF" stroke="none"/><path d="M385.69 331.8L388.3 329.19L390.91 331.8L388.3 334.41Z" fill="#EC69EF" stroke="none"/><path d="M400.69 314.8L403.3 312.19L405.91 314.8L403.3 317.41Z" fill="#EC69EF" stroke="none"/><path d="M496.49 363.8L499.1 361.19L501.71 363.8L499.1 366.41Z" fill="#EC69EF" stroke="none"/><path d="M507.29 312.7L509.9 310.09L512.51 312.7L509.9 315.31Z" fill="#EC69EF" stroke="none"/><path d="M516.79 311.2L519.4 308.59L522.01 311.2L519.4 313.81Z" fill="#EC69EF" stroke="none"/><path d="M487.49 339.3L490.1 336.69L492.71 339.3L490.1 341.91Z" fill="#EC69EF" stroke="none"/><path d="M566.19 291.7L568.8 289.09L571.41 291.7L568.8 294.31Z" fill="#EC69EF" stroke="none"/><path d="M553.39 308.5L556 305.89L558.61 308.5L556 311.11Z" fill="#EC69EF" stroke="none"/><path d="M546.39 317.5L549 314.89L551.61 317.5L549 320.11Z" fill="#EC69EF" stroke="none"/><path d="M591.99 316.8L594.6 314.19L597.21 316.8L594.6 319.41Z" fill="#EC69EF" stroke="none"/><path d="M614.19 320.5L616.8 317.89L619.41 320.5L616.8 323.11Z" fill="#EC69EF" stroke="none"/><path d="M611.99 290.5L614.6 287.89L617.21 290.5L614.6 293.11Z" fill="#EC69EF" stroke="none"/><path d="M572.99 282.3L575.6 279.69L578.21 282.3L575.6 284.91Z" fill="#EC69EF" stroke="none"/><path d="M519.69 355.8L522.3 353.19L524.91 355.8L522.3 358.41Z" fill="#EC69EF" stroke="none"/><path d="M527.19 283.8L529.8 281.19L532.41 283.8L529.8 286.41Z" fill="#EC69EF" stroke="none"/><path d="M421.19 385L423.8 382.39L426.41 385L423.8 387.61Z" fill="#EC69EF" stroke="none"/><path d="M505.19 432.6L507.8 429.99L510.41 432.6L507.8 435.21Z" fill="#EC69EF" stroke="none"/><path d="M372.69 272.2L375.3 269.59L377.91 272.2L375.3 274.81Z" fill="#EC69EF" stroke="none"/></g>
<g stroke="#FB61D7" stroke-width="0.95" fill="none" stroke-linecap="round"><circle cx="193.4" cy="196.2" r="2" fill="#FB61D7"/><circle cx="107.5" cy="249.4" r="2" fill="#FB61D7"/><circle cx="94.3" cy="270.4" r="2" fill="#FB61D7"/><circle cx="103.3" cy="278.3" r="2" fill="#FB61D7"/><circle cx="202.4" cy="208.5" r="2" fill="#FB61D7"/><circle cx="156.3" cy="266.3" r="2" fill="#FB61D7"/><circle cx="156.3" cy="269.6" r="2" fill="#FB61D7"/><circle cx="208.4" cy="255.8" r="2" fill="#FB61D7"/><circle cx="80.2" cy="287.2" r="2" fill="#FB61D7"/><circle cx="142.5" cy="283.3" r="2" fill="#FB61D7"/><circle cx="188.6" cy="282.3" r="2" fill="#FB61D7"/><circle cx="205.6" cy="285.3" r="2" fill="#FB61D7"/><circle cx="123.3" cy="312.3" r="2" fill="#FB61D7"/><circle cx="116.5" cy="321.3" r="2" fill="#FB61D7"/><circle cx="175.6" cy="303.3" r="2" fill="#FB61D7"/><circle cx="191.3" cy="303.3" r="2" fill="#FB61D7"/><circle cx="112.8" cy="363.3" r="2" fill="#FB61D7"/><circle cx="251.5" cy="225" r="2" fill="#FB61D7"/><circle cx="235.5" cy="221" r="2" fill="#FB61D7"/><circle cx="284.6" cy="241.3" r="2" fill="#FB61D7"/><circle cx="264.3" cy="263.8" r="2" fill="#FB61D7"/><circle cx="332.6" cy="254.3" r="2" fill="#FB61D7"/><circle cx="250.5" cy="281.2" r="2" fill="#FB61D7"/><circle cx="289.4" cy="289.8" r="2" fill="#FB61D7"/><circle cx="335.6" cy="289.3" r="2" fill="#FB61D7"/><circle cx="98.3" cy="381.7" r="2" fill="#FB61D7"/></g>
<g stroke="#FF63B9" stroke-width="0.95" fill="none" stroke-linecap="round"><circle cx="159.3" cy="236.3" r="1" fill="#FF63B9"/><circle cx="153.8" cy="245.6" r="1" fill="#FF63B9"/><circle cx="212.3" cy="227.6" r="1" fill="#FF63B9"/><circle cx="215.3" cy="244.6" r="1" fill="#FF63B9"/><circle cx="173.6" cy="219.3" r="1" fill="#FF63B9"/><circle cx="195.4" cy="270.4" r="1" fill="#FF63B9"/><circle cx="218.6" cy="217.5" r="1" fill="#FF63B9"/><circle cx="208.4" cy="251.8" r="1" fill="#FF63B9"/><circle cx="241.5" cy="209.3" r="1" fill="#FF63B9"/><circle cx="228.6" cy="227.3" r="1" fill="#FF63B9"/><circle cx="221.5" cy="236.6" r="1" fill="#FF63B9"/><circle cx="267.3" cy="235.6" r="1" fill="#FF63B9"/><circle cx="260.2" cy="243.4" r="1" fill="#FF63B9"/><circle cx="247.5" cy="261.4" r="1" fill="#FF63B9"/><circle cx="274.5" cy="222.8" r="1" fill="#FF63B9"/><circle cx="274.5" cy="225.8" r="1" fill="#FF63B9"/><circle cx="326.6" cy="213.3" r="1" fill="#FF63B9"/><circle cx="329.3" cy="234.4" r="1" fill="#FF63B9"/><circle cx="300.6" cy="188.3" r="1" fill="#FF63B9"/><circle cx="294.6" cy="197.7" r="1" fill="#FF63B9"/><circle cx="313.4" cy="231.4" r="1" fill="#FF63B9"/><circle cx="352.6" cy="239.3" r="1" fill="#FF63B9"/><circle cx="299.6" cy="250.6" r="1" fill="#FF63B9"/><circle cx="235" cy="218.7" r="1" fill="#FF63B9"/><circle cx="372.3" cy="213.3" r="1" fill="#FF63B9"/></g>
<g stroke="#FF6B96" stroke-width="0.95" fill="none" stroke-linecap="round"><circle cx="225.4" cy="171.5" r="2" fill="#fff" fill-opacity="0.35"/><circle cx="218.4" cy="181.1" r="2" fill="#fff" fill-opacity="0.35"/><circle cx="104.2" cy="194.6" r="2" fill="#fff" fill-opacity="0.35"/><circle cx="212.3" cy="189.5" r="2" fill="#fff" fill-opacity="0.35"/><circle cx="139.4" cy="231.5" r="2" fill="#fff" fill-opacity="0.35"/><circle cx="119.5" cy="258.4" r="2" fill="#fff" fill-opacity="0.35"/><circle cx="119.5" cy="270.4" r="2" fill="#fff" fill-opacity="0.35"/><circle cx="194.3" cy="249.4" r="2" fill="#fff" fill-opacity="0.35"/><circle cx="171.4" cy="258.4" r="2" fill="#fff" fill-opacity="0.35"/><circle cx="164.3" cy="266.3" r="2" fill="#fff" fill-opacity="0.35"/><circle cx="122.3" cy="288.3" r="2" fill="#fff" fill-opacity="0.35"/><circle cx="161.3" cy="296.2" r="2" fill="#fff" fill-opacity="0.35"/><circle cx="95.2" cy="326.2" r="2" fill="#fff" fill-opacity="0.35"/><circle cx="213.4" cy="283" r="2" fill="#fff" fill-opacity="0.35"/><circle cx="212.3" cy="342.3" r="2" fill="#fff" fill-opacity="0.35"/><circle cx="192.4" cy="371.3" r="2" fill="#fff" fill-opacity="0.35"/><circle cx="287.3" cy="188.3" r="2" fill="#fff" fill-opacity="0.35"/><circle cx="319.4" cy="188.3" r="2" fill="#fff" fill-opacity="0.35"/><circle cx="290.6" cy="202.5" r="2" fill="#fff" fill-opacity="0.35"/><circle cx="260.2" cy="209.3" r="2" fill="#fff" fill-opacity="0.35"/><circle cx="299.6" cy="214.8" r="2" fill="#fff" fill-opacity="0.35"/><circle cx="293.6" cy="222.5" r="2" fill="#fff" fill-opacity="0.35"/><circle cx="322.4" cy="222.5" r="2" fill="#fff" fill-opacity="0.35"/><circle cx="286.5" cy="231.5" r="2" fill="#fff" fill-opacity="0.35"/><circle cx="348.4" cy="230.3" r="2" fill="#fff" fill-opacity="0.35"/><circle cx="355.6" cy="222.5" r="2" fill="#fff" fill-opacity="0.35"/><circle cx="279.8" cy="240.4" r="2" fill="#fff" fill-opacity="0.35"/><circle cx="240.6" cy="232.3" r="2" fill="#fff" fill-opacity="0.35"/><circle cx="231.6" cy="223.5" r="2" fill="#fff" fill-opacity="0.35"/><circle cx="221.5" cy="217.2" r="2" fill="#fff" fill-opacity="0.35"/><circle cx="221.5" cy="221.3" r="2" fill="#fff" fill-opacity="0.35"/><circle cx="272.3" cy="261.1" r="2" fill="#fff" fill-opacity="0.35"/><circle cx="335.3" cy="248.3" r="2" fill="#fff" fill-opacity="0.35"/><circle cx="364.1" cy="246.8" r="2" fill="#fff" fill-opacity="0.35"/><circle cx="299.6" cy="277.3" r="2" fill="#fff" fill-opacity="0.35"/><circle cx="223.3" cy="291.3" r="2" fill="#fff" fill-opacity="0.35"/><circle cx="275.6" cy="282.3" r="2" fill="#fff" fill-opacity="0.35"/><circle cx="262.5" cy="299.2" r="2" fill="#fff" fill-opacity="0.35"/><circle cx="308.6" cy="299.2" r="2" fill="#fff" fill-opacity="0.35"/><circle cx="314.3" cy="290.5" r="2" fill="#fff" fill-opacity="0.35"/><circle cx="331.4" cy="290.2" r="2" fill="#fff" fill-opacity="0.35"/><circle cx="304.5" cy="328.3" r="2" fill="#fff" fill-opacity="0.35"/></g>
<path d="M611.25 116.5L698.4 141L738.1 149.3L777.4 157.4L825.4 173.2L755.4 302.4L716 294.4L635 261.5L571.3 168.2Z" fill="#F8766D" fill-opacity="0.2" stroke="#F8766D" stroke-width="1" stroke-linejoin="round"/>
<path d="M421.5 228.2L466 227.5L500 242L555 253.4L545 287L485.6 309L469 310.5L422.5 310.5L414.3 304.3L388 277Z" fill="#EB8335" fill-opacity="0.2" stroke="#EB8335" stroke-width="1" stroke-linejoin="round"/>
<path d="M556 283.5L771.25 340L679.5 405L584.6 389.8L545.6 380L513.3 365L472 338.8L481 304.5Z" fill="#DA8F00" fill-opacity="0.2" stroke="#DA8F00" stroke-width="1" stroke-linejoin="round"/>
<path d="M439 326L647 390L606.25 444.25L554.5 456.25L460.8 440.6L339.8 399.8L346.6 390.8Z" fill="#C49A00" fill-opacity="0.2" stroke="#C49A00" stroke-width="1" stroke-linejoin="round"/>
<path d="M288 64.5L425.6 59L552 92L580.75 137.5L436 225L283 216L241 191.3L205 154.25Z" fill="#A9A400" fill-opacity="0.2" stroke="#A9A400" stroke-width="1" stroke-linejoin="round"/>
<path d="M389.5 106.5L545.5 138.75L575.4 162.4L574.4 224L567.5 232L406 258L393 213.4L385 192Z" fill="#86AC00" fill-opacity="0.2" stroke="#86AC00" stroke-width="1" stroke-linejoin="round"/>
<path d="M155 278.75L262 267L348 268L371 273.5L406.4 306L380.4 344.3L366.8 362.3L309.8 412.6L88 431.75L121.8 325.8Z" fill="#53B400" fill-opacity="0.2" stroke="#53B400" stroke-width="1" stroke-linejoin="round"/>
<path d="M319.5 442.5L398 391L523 388.8L562 397.5L594.25 413.25L603 485.75L505 499.25L356.75 505.75Z" fill="#00BA38" fill-opacity="0.2" stroke="#00BA38" stroke-width="1" stroke-linejoin="round"/>
<path d="M404 195L531.75 167.5L581 184L638.8 222.5L654.6 282.6L462.2 283L413.3 264L388 241L390 213Z" fill="#00BE6D" fill-opacity="0.2" stroke="#00BE6D" stroke-width="1" stroke-linejoin="round"/>
<path d="M555 193L653.3 179.7L731.4 195.1L780.4 211.7L829.4 228.5L811.7 288L711 271L624.5 248Z" fill="#00C094" fill-opacity="0.2" stroke="#00C094" stroke-width="1" stroke-linejoin="round"/>
<path d="M563.7 264.5L671.8 323L637.2 366.6L586.2 378.6L445 364.4L426.3 329.8Z" fill="#00C0B5" fill-opacity="0.2" stroke="#00C0B5" stroke-width="1" stroke-linejoin="round"/>
<path d="M233.5 278.8L321.5 243.7L378.4 248.8L427 327L351 348.8L248.6 321.6L223.8 317Z" fill="#00BDD2" fill-opacity="0.2" stroke="#00BDD2" stroke-width="1" stroke-linejoin="round"/>
<path d="M612.5 231.5L740.3 264L789 280.5L775.5 298L710 328L576.6 304.2L600.5 249.5Z" fill="#00B6EB" fill-opacity="0.2" stroke="#00B6EB" stroke-width="1" stroke-linejoin="round"/>
<path d="M103 457L300 323L363 337L433 403.8L522 520.5L320 595L115 546.25Z" fill="#00ABFD" fill-opacity="0.2" stroke="#00ABFD" stroke-width="1" stroke-linejoin="round"/>
<path d="M149.6 230.3L214 200.3L361 202.5L458.3 236.5L357 352.5L101.25 353.75Z" fill="#619CFF" fill-opacity="0.2" stroke="#619CFF" stroke-width="1" stroke-linejoin="round"/>
<path d="M291.25 119.25L379.25 144.25L457.5 160.5L477 177L496 213L391.5 235.8L206.25 179.25L232 141.25Z" fill="#A58AFF" fill-opacity="0.2" stroke="#A58AFF" stroke-width="1" stroke-linejoin="round"/>
<path d="M535 221L663 282L735.7 368.2L469.8 405.3L413.5 302Z" fill="#D078FF" fill-opacity="0.2" stroke="#D078FF" stroke-width="1" stroke-linejoin="round"/>
<path d="M528 206L731.6 313.4L507.8 432L338.3 378L311.6 272.5L318 263Z" fill="#EC69EF" fill-opacity="0.2" stroke="#EC69EF" stroke-width="1" stroke-linejoin="round"/>
<path d="M80.5 287L94.5 270L107.5 249.5L193.4 196.3L333 256L335.5 289.5L98.3 381.7Z" fill="#FB61D7" fill-opacity="0.2" stroke="#FB61D7" stroke-width="1" stroke-linejoin="round"/>
<path d="M153.8 245.3L173.6 219.3L245.2 179.8L300 188.8L389.5 212.3L361.6 235.6L241 270.2L195.3 270.2Z" fill="#FF63B9" fill-opacity="0.2" stroke="#FF63B9" stroke-width="1" stroke-linejoin="round"/>
<path d="M104.2 194.5L225.4 172.3L319.6 188.3L355.3 222.3L364.8 247.3L304 328L192.4 371.3L95 326.25Z" fill="#FF6B96" fill-opacity="0.2" stroke="#FF6B96" stroke-width="1" stroke-linejoin="round"/>
<g stroke="#F8766D" stroke-width="0.95" fill="none" stroke-linecap="round"><circle cx="708.36" cy="195.35" r="4"/></g>
<g stroke="#EB8335" stroke-width="0.95" fill="none" stroke-linecap="round"><path d="M468.35 264.52L474.73 275.58L461.96 275.58Z"/></g>
<g stroke="#DA8F00" stroke-width="0.95" fill="none" stroke-linecap="round"><path d="M600.83 343.36h13.41M607.54 336.66v13.41"/></g>
<g stroke="#C49A00" stroke-width="0.95" fill="none" stroke-linecap="round"><path d="M483.86 376.56l9.48 9.48M483.86 386.04l9.48 -9.48"/></g>
<g stroke="#A9A400" stroke-width="0.95" fill="none" stroke-linecap="round"><path d="M387.8 139.5L394.5 132.8L401.2 139.5L394.5 146.2Z"/></g>
<g stroke="#86AC00" stroke-width="0.95" fill="none" stroke-linecap="round"><path d="M478.11 197.88L484.49 186.82L471.72 186.82Z"/></g>
<g stroke="#53B400" stroke-width="0.95" fill="none" stroke-linecap="round"><path d="M262.26 330.76l9.48 9.48M262.26 340.24l9.48 -9.48M262.26 330.76h9.48v9.48h-9.48Z"/></g>
<g stroke="#00BA38" stroke-width="0.95" fill="none" stroke-linecap="round"><path d="M471.4 438.56h13.41M478.11 431.86v13.41M473.37 433.82l9.48 9.48M473.37 443.3l9.48 -9.48"/></g>
<g stroke="#00BE6D" stroke-width="0.95" fill="none" stroke-linecap="round"><path d="M528.31 228.05h13.41M535.02 221.34v13.41M528.31 228.05L535.02 221.34L541.72 228.05L535.02 234.75Z"/></g>
<g stroke="#00C094" stroke-width="0.95" fill="none" stroke-linecap="round"><circle cx="743.65" cy="227.13" r="4"/><path d="M738.91 227.13h9.48M743.65 222.39v9.48"/></g>
<g stroke="#00C0B5" stroke-width="0.95" fill="none" stroke-linecap="round"><path d="M562.34 317.37L568.73 330.27L555.96 330.27ZM562.34 332.12L568.73 319.22L555.96 319.22Z"/></g>
<g stroke="#00BDD2" stroke-width="0.95" fill="none" stroke-linecap="round"><path d="M310.91 283.3h9.48M315.65 278.56v9.48M310.91 278.56h9.48v9.48h-9.48Z"/></g>
<g stroke="#00B6EB" stroke-width="0.95" fill="none" stroke-linecap="round"><circle cx="668.25" cy="285.75" r="4"/><path d="M663.51 281.01l9.48 9.48M663.51 290.49l9.48 -9.48"/></g>
<g stroke="#00ABFD" stroke-width="0.95" fill="none" stroke-linecap="round"><path d="M309.26 467.76h9.48v9.48h-9.48ZM314 467.76L318.74 477.24L309.26 477.24Z"/></g>
<g stroke="#619CFF" stroke-width="0.95" fill="none" stroke-linecap="round"><path d="M289.28 251.54h9.48v9.48h-9.48Z" fill="#619CFF" stroke="none"/></g>
<g stroke="#A58AFF" stroke-width="0.95" fill="none" stroke-linecap="round"><circle cx="342.55" cy="174.32" r="4.5" fill="#A58AFF" stroke="none"/></g>
<g stroke="#D078FF" stroke-width="0.95" fill="none" stroke-linecap="round"><path d="M536.97 304.88L542.07 313.73L531.86 313.73Z" fill="#D078FF" stroke="none"/></g>
<g stroke="#EC69EF" stroke-width="0.95" fill="none" stroke-linecap="round"><path d="M498.59 296.82L503.33 292.08L508.07 296.82L503.33 301.56Z" fill="#EC69EF" stroke="none"/></g>
<g stroke="#FB61D7" stroke-width="0.95" fill="none" stroke-linecap="round"><circle cx="186.37" cy="273.09" r="4" fill="#FB61D7"/></g>
<g stroke="#FF63B9" stroke-width="0.95" fill="none" stroke-linecap="round"><circle cx="265" cy="228.8" r="3" fill="#FF63B9"/></g>
<g stroke="#FF6B96" stroke-width="0.95" fill="none" stroke-linecap="round"><circle cx="251.53" cy="251.32" r="4" fill="#fff"/></g>
</g>
<path d="M243.6 620.7v3.7" stroke="#333" stroke-width="1.07"/><path d="M480.4 620.7v3.7" stroke="#333" stroke-width="1.07"/><path d="M716.5 620.7v3.7" stroke="#333" stroke-width="1.07"/><path d="M43 146.83h-3.7" stroke="#333" stroke-width="1.07"/><path d="M43 285.5h-3.7" stroke="#333" stroke-width="1.07"/><path d="M43 424.17h-3.7" stroke="#333" stroke-width="1.07"/><path d="M43 562.83h-3.7" stroke="#333" stroke-width="1.07"/>
<text x="243.6" y="638.5" font-size="12.3" fill="#4D4D4D" text-anchor="middle">-2</text>
<text x="480.4" y="638.5" font-size="12.3" fill="#4D4D4D" text-anchor="middle">0</text>
<text x="716.5" y="638.5" font-size="12.3" fill="#4D4D4D" text-anchor="middle">2</text>
<text x="36.3" y="152.43" font-size="12.3" fill="#4D4D4D" text-anchor="end">2</text>
<text x="36.3" y="291.1" font-size="12.3" fill="#4D4D4D" text-anchor="end">0</text>
<text x="36.3" y="429.77" font-size="12.3" fill="#4D4D4D" text-anchor="end">-2</text>
<text x="36.3" y="568.43" font-size="12.3" fill="#4D4D4D" text-anchor="end">-4</text>
<text x="43.6" y="22.2" font-size="17.95" fill="#000">Cluster plot</text>
<text x="455.3" y="655.8" font-size="14.85" fill="#000" text-anchor="middle">Dim1 (36%)</text>
<text transform="translate(19.8,326.5) rotate(-90)" font-size="14.85" fill="#000" text-anchor="middle">Dim2 (20.9%)</text>
<g shape-rendering="crispEdges">
<text x="888.3" y="202.8" font-size="14.67" fill="#000">cluster</text>
<rect x="889.45" y="212.5" width="21" height="20.8" fill="#F2F2F2"/>
<g stroke="#F8766D" stroke-width="0.95" fill="none" stroke-linecap="round"><circle cx="899.8" cy="222.6" r="2"/><circle cx="899.8" cy="222.6" r="4"/></g>
<rect x="889.45" y="212.5" width="21" height="20.8" fill="#F8766D" fill-opacity="0.2" stroke="#F8766D" stroke-width="1.1"/>
<text x="918.3" y="228.52" font-size="11.73" fill="#000">1</text>
<rect x="889.45" y="235.54" width="21" height="20.8" fill="#F2F2F2"/>
<g stroke="#EB8335" stroke-width="0.95" fill="none" stroke-linecap="round"><path d="M899.8 241.59L903.31 247.67L896.29 247.67Z"/><path d="M899.8 238.27L906.18 249.33L893.42 249.33Z"/></g>
<rect x="889.45" y="235.54" width="21" height="20.8" fill="#EB8335" fill-opacity="0.2" stroke="#EB8335" stroke-width="1.1"/>
<text x="918.3" y="251.56" font-size="11.73" fill="#000">2</text>
<rect x="889.45" y="258.58" width="21" height="20.8" fill="#F2F2F2"/>
<g stroke="#DA8F00" stroke-width="0.95" fill="none" stroke-linecap="round"><path d="M896.11 268.68h7.37M899.8 264.99v7.37"/><path d="M893.1 268.68h13.41M899.8 261.98v13.41"/></g>
<rect x="889.45" y="258.58" width="21" height="20.8" fill="#DA8F00" fill-opacity="0.2" stroke="#DA8F00" stroke-width="1.1"/>
<text x="918.3" y="274.6" font-size="11.73" fill="#000">3</text>
<rect x="889.45" y="281.62" width="21" height="20.8" fill="#F2F2F2"/>
<g stroke="#C49A00" stroke-width="0.95" fill="none" stroke-linecap="round"><path d="M897.19 289.11l5.21 5.21M897.19 294.33l5.21 -5.21"/><path d="M895.06 286.98l9.48 9.48M895.06 296.46l9.48 -9.48"/></g>
<rect x="889.45" y="281.62" width="21" height="20.8" fill="#C49A00" fill-opacity="0.2" stroke="#C49A00" stroke-width="1.1"/>
<text x="918.3" y="297.64" font-size="11.73" fill="#000">4</text>
<rect x="889.45" y="304.66" width="21" height="20.8" fill="#F2F2F2"/>
<g stroke="#A9A400" stroke-width="0.95" fill="none" stroke-linecap="round"><path d="M896.11 314.76L899.8 311.07L903.49 314.76L899.8 318.45Z"/><path d="M893.1 314.76L899.8 308.06L906.5 314.76L899.8 321.46Z"/></g>
<rect x="889.45" y="304.66" width="21" height="20.8" fill="#A9A400" fill-opacity="0.2" stroke="#A9A400" stroke-width="1.1"/>
<text x="918.3" y="320.68" font-size="11.73" fill="#000">5</text>
<rect x="889.45" y="327.7" width="21" height="20.8" fill="#F2F2F2"/>
<g stroke="#86AC00" stroke-width="0.95" fill="none" stroke-linecap="round"><path d="M899.8 341.85L903.31 335.77L896.29 335.77Z"/><path d="M899.8 345.17L906.18 334.11L893.42 334.11Z"/></g>
<rect x="889.45" y="327.7" width="21" height="20.8" fill="#86AC00" fill-opacity="0.2" stroke="#86AC00" stroke-width="1.1"/>
<text x="918.3" y="343.72" font-size="11.73" fill="#000">6</text>
<rect x="889.45" y="350.74" width="21" height="20.8" fill="#F2F2F2"/>
<g stroke="#53B400" stroke-width="0.95" fill="none" stroke-linecap="round"><path d="M897.19 358.23l5.21 5.21M897.19 363.45l5.21 -5.21M897.19 358.23h5.21v5.21h-5.21Z"/><path d="M895.06 356.1l9.48 9.48M895.06 365.58l9.48 -9.48M895.06 356.1h9.48v9.48h-9.48Z"/></g>
<rect x="889.45" y="350.74" width="21" height="20.8" fill="#53B400" fill-opacity="0.2" stroke="#53B400" stroke-width="1.1"/>
<text x="918.3" y="366.76" font-size="11.73" fill="#000">7</text>
<rect x="889.45" y="373.78" width="21" height="20.8" fill="#F2F2F2"/>
<g stroke="#00BA38" stroke-width="0.95" fill="none" stroke-linecap="round"><path d="M896.11 383.88h7.37M899.8 380.19v7.37M897.19 381.27l5.21 5.21M897.19 386.49l5.21 -5.21"/><path d="M893.1 383.88h13.41M899.8 377.18v13.41M895.06 379.14l9.48 9.48M895.06 388.62l9.48 -9.48"/></g>
<rect x="889.45" y="373.78" width="21" height="20.8" fill="#00BA38" fill-opacity="0.2" stroke="#00BA38" stroke-width="1.1"/>
<text x="918.3" y="389.8" font-size="11.73" fill="#000">8</text>
<rect x="889.45" y="396.82" width="21" height="20.8" fill="#F2F2F2"/>
<g stroke="#00BE6D" stroke-width="0.95" fill="none" stroke-linecap="round"><path d="M896.11 406.92h7.37M899.8 403.23v7.37M896.11 406.92L899.8 403.23L903.49 406.92L899.8 410.61Z"/><path d="M893.1 406.92h13.41M899.8 400.22v13.41M893.1 406.92L899.8 400.22L906.5 406.92L899.8 413.62Z"/></g>
<rect x="889.45" y="396.82" width="21" height="20.8" fill="#00BE6D" fill-opacity="0.2" stroke="#00BE6D" stroke-width="1.1"/>
<text x="918.3" y="412.84" font-size="11.73" fill="#000">9</text>
<rect x="889.45" y="419.86" width="21" height="20.8" fill="#F2F2F2"/>
<g stroke="#00C094" stroke-width="0.95" fill="none" stroke-linecap="round"><circle cx="899.8" cy="429.96" r="2"/><path d="M897.19 429.96h5.21M899.8 427.35v5.21"/><circle cx="899.8" cy="429.96" r="4"/><path d="M895.06 429.96h9.48M899.8 425.22v9.48"/></g>
<rect x="889.45" y="419.86" width="21" height="20.8" fill="#00C094" fill-opacity="0.2" stroke="#00C094" stroke-width="1.1"/>
<text x="918.3" y="435.88" font-size="11.73" fill="#000">10</text>
<rect x="889.45" y="442.9" width="21" height="20.8" fill="#F2F2F2"/>
<g stroke="#00C0B5" stroke-width="0.95" fill="none" stroke-linecap="round"><path d="M899.8 448.95L903.31 456.04L896.29 456.04ZM899.8 457.05L903.31 449.96L896.29 449.96Z"/><path d="M899.8 445.63L906.18 458.53L893.42 458.53ZM899.8 460.37L906.18 447.47L893.42 447.47Z"/></g>
<rect x="889.45" y="442.9" width="21" height="20.8" fill="#00C0B5" fill-opacity="0.2" stroke="#00C0B5" stroke-width="1.1"/>
<text x="918.3" y="458.92" font-size="11.73" fill="#000">11</text>
<rect x="940.65" y="212.5" width="21" height="20.8" fill="#F2F2F2"/>
<g stroke="#00BDD2" stroke-width="0.95" fill="none" stroke-linecap="round"><path d="M948.39 222.6h5.21M951 219.99v5.21M948.39 219.99h5.21v5.21h-5.21Z"/><path d="M946.26 222.6h9.48M951 217.86v9.48M946.26 217.86h9.48v9.48h-9.48Z"/></g>
<rect x="940.65" y="212.5" width="21" height="20.8" fill="#00BDD2" fill-opacity="0.2" stroke="#00BDD2" stroke-width="1.1"/>
<text x="970.2" y="228.52" font-size="11.73" fill="#000">12</text>
<rect x="940.65" y="235.54" width="21" height="20.8" fill="#F2F2F2"/>
<g stroke="#00B6EB" stroke-width="0.95" fill="none" stroke-linecap="round"><circle cx="951" cy="245.64" r="2"/><path d="M948.39 243.03l5.21 5.21M948.39 248.25l5.21 -5.21"/><circle cx="951" cy="245.64" r="4"/><path d="M946.26 240.9l9.48 9.48M946.26 250.38l9.48 -9.48"/></g>
<rect x="940.65" y="235.54" width="21" height="20.8" fill="#00B6EB" fill-opacity="0.2" stroke="#00B6EB" stroke-width="1.1"/>
<text x="970.2" y="251.56" font-size="11.73" fill="#000">13</text>
<rect x="940.65" y="258.58" width="21" height="20.8" fill="#F2F2F2"/>
<g stroke="#00ABFD" stroke-width="0.95" fill="none" stroke-linecap="round"><path d="M948.39 266.07h5.21v5.21h-5.21ZM951 266.07L953.61 271.29L948.39 271.29Z"/><path d="M946.26 263.94h9.48v9.48h-9.48ZM951 263.94L955.74 273.42L946.26 273.42Z"/></g>
<rect x="940.65" y="258.58" width="21" height="20.8" fill="#00ABFD" fill-opacity="0.2" stroke="#00ABFD" stroke-width="1.1"/>
<text x="970.2" y="274.6" font-size="11.73" fill="#000">14</text>
<rect x="940.65" y="281.62" width="21" height="20.8" fill="#F2F2F2"/>
<g stroke="#619CFF" stroke-width="0.95" fill="none" stroke-linecap="round"><path d="M948.39 289.11h5.21v5.21h-5.21Z" fill="#619CFF" stroke="none"/><path d="M946.26 286.98h9.48v9.48h-9.48Z" fill="#619CFF" stroke="none"/></g>
<rect x="940.65" y="281.62" width="21" height="20.8" fill="#619CFF" fill-opacity="0.2" stroke="#619CFF" stroke-width="1.1"/>
<text x="970.2" y="297.64" font-size="11.73" fill="#000">15</text>
<rect x="940.65" y="304.66" width="21" height="20.8" fill="#F2F2F2"/>
<g stroke="#A58AFF" stroke-width="0.95" fill="none" stroke-linecap="round"><circle cx="951" cy="314.76" r="2.5" fill="#A58AFF" stroke="none"/><circle cx="951" cy="314.76" r="4.5" fill="#A58AFF" stroke="none"/></g>
<rect x="940.65" y="304.66" width="21" height="20.8" fill="#A58AFF" fill-opacity="0.2" stroke="#A58AFF" stroke-width="1.1"/>
<text x="970.2" y="320.68" font-size="11.73" fill="#000">16</text>
<rect x="940.65" y="327.7" width="21" height="20.8" fill="#F2F2F2"/>
<g stroke="#D078FF" stroke-width="0.95" fill="none" stroke-linecap="round"><path d="M951 334.56L953.81 339.42L948.19 339.42Z" fill="#D078FF" stroke="none"/><path d="M951 331.9L956.11 340.75L945.89 340.75Z" fill="#D078FF" stroke="none"/></g>
<rect x="940.65" y="327.7" width="21" height="20.8" fill="#D078FF" fill-opacity="0.2" stroke="#D078FF" stroke-width="1.1"/>
<text x="970.2" y="343.72" font-size="11.73" fill="#000">17</text>
<rect x="940.65" y="350.74" width="21" height="20.8" fill="#F2F2F2"/>
<g stroke="#EC69EF" stroke-width="0.95" fill="none" stroke-linecap="round"><path d="M948.39 360.84L951 358.23L953.61 360.84L951 363.45Z" fill="#EC69EF" stroke="none"/><path d="M946.26 360.84L951 356.1L955.74 360.84L951 365.58Z" fill="#EC69EF" stroke="none"/></g>
<rect x="940.65" y="350.74" width="21" height="20.8" fill="#EC69EF" fill-opacity="0.2" stroke="#EC69EF" stroke-width="1.1"/>
<text x="970.2" y="366.76" font-size="11.73" fill="#000">18</text>
<rect x="940.65" y="373.78" width="21" height="20.8" fill="#F2F2F2"/>
<g stroke="#FB61D7" stroke-width="0.95" fill="none" stroke-linecap="round"><circle cx="951" cy="383.88" r="2" fill="#FB61D7"/><circle cx="951" cy="383.88" r="4" fill="#FB61D7"/></g>
<rect x="940.65" y="373.78" width="21" height="20.8" fill="#FB61D7" fill-opacity="0.2" stroke="#FB61D7" stroke-width="1.1"/>
<text x="970.2" y="389.8" font-size="11.73" fill="#000">19</text>
<rect x="940.65" y="396.82" width="21" height="20.8" fill="#F2F2F2"/>
<g stroke="#FF63B9" stroke-width="0.95" fill="none" stroke-linecap="round"><circle cx="951" cy="406.92" r="1" fill="#FF63B9"/><circle cx="951" cy="406.92" r="3" fill="#FF63B9"/></g>
<rect x="940.65" y="396.82" width="21" height="20.8" fill="#FF63B9" fill-opacity="0.2" stroke="#FF63B9" stroke-width="1.1"/>
<text x="970.2" y="412.84" font-size="11.73" fill="#000">20</text>
<rect x="940.65" y="419.86" width="21" height="20.8" fill="#F2F2F2"/>
<g stroke="#FF6B96" stroke-width="0.95" fill="none" stroke-linecap="round"><circle cx="951" cy="429.96" r="2" fill="#fff" fill-opacity="0.35"/><circle cx="951" cy="429.96" r="4" fill="#fff"/></g>
<rect x="940.65" y="419.86" width="21" height="20.8" fill="#FF6B96" fill-opacity="0.2" stroke="#FF6B96" stroke-width="1.1"/>
<text x="970.2" y="435.88" font-size="11.73" fill="#000">21</text>
</g>
</svg></body></html>
